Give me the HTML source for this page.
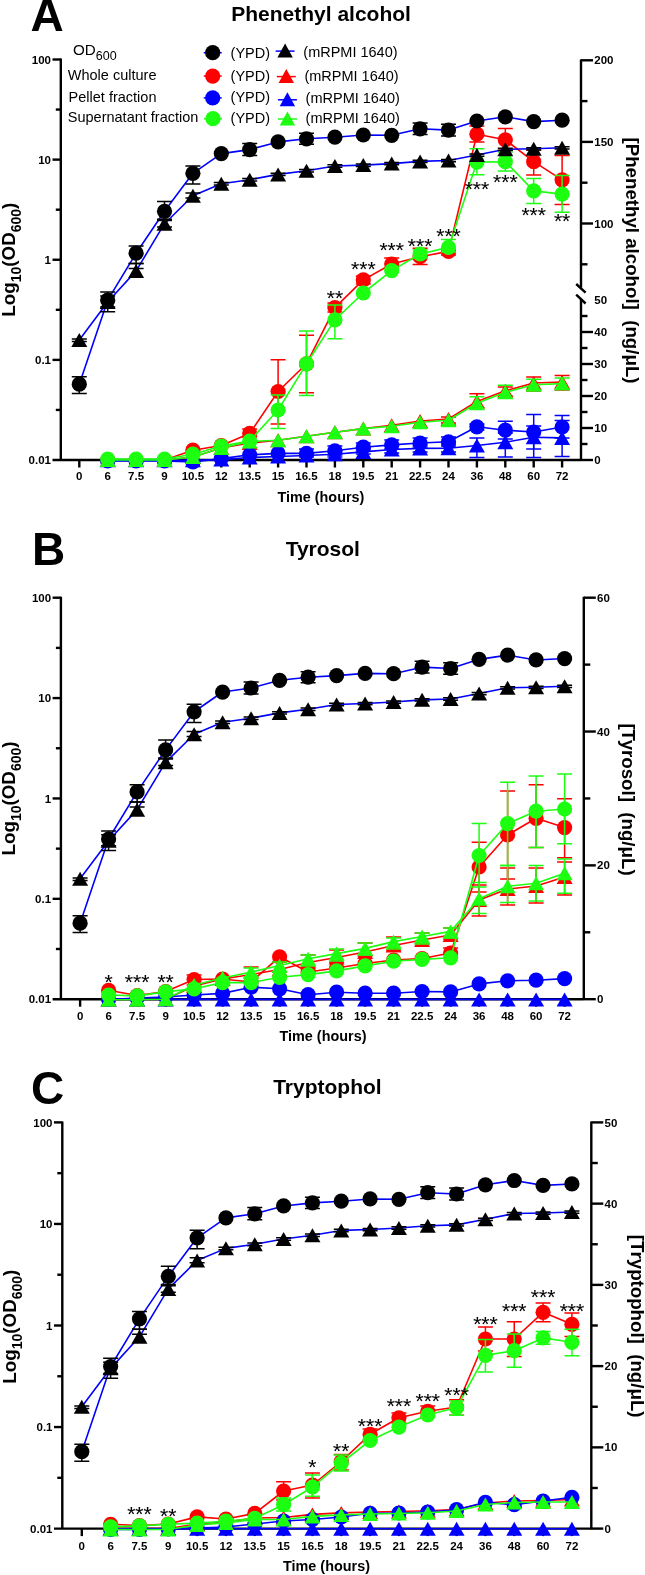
<!DOCTYPE html>
<html><head><meta charset="utf-8"><style>
html,body{margin:0;padding:0;background:#fff;width:645px;height:1575px;overflow:hidden}
svg{display:block;will-change:transform}
text{font-family:"Liberation Sans", sans-serif}
</style></head><body>
<svg width="645" height="1575" viewBox="0 0 645 1575" font-family='"Liberation Sans", sans-serif' fill="#000">
<rect width="645" height="1575" fill="#fff"/>
<path d="M60.8 58.6V460" stroke="#000" stroke-width="2.4"/>
<path d="M52.5 460H581" stroke="#000" stroke-width="2.4"/>
<text x="51" y="464.1" font-size="11.5" font-weight="bold" text-anchor="end" >0.01</text>
<path d="M52.5 359.88H60.8" stroke="#000" stroke-width="2.4"/>
<text x="51" y="363.98" font-size="11.5" font-weight="bold" text-anchor="end" >0.1</text>
<path d="M52.5 259.75H60.8" stroke="#000" stroke-width="2.4"/>
<text x="51" y="263.85" font-size="11.5" font-weight="bold" text-anchor="end" >1</text>
<path d="M52.5 159.62H60.8" stroke="#000" stroke-width="2.4"/>
<text x="51" y="163.72" font-size="11.5" font-weight="bold" text-anchor="end" >10</text>
<path d="M52.5 59.5H60.8" stroke="#000" stroke-width="2.4"/>
<text x="51" y="63.6" font-size="11.5" font-weight="bold" text-anchor="end" >100</text>
<path d="M55.8 409.94H60.8" stroke="#000" stroke-width="2.4"/>
<path d="M55.8 309.81H60.8" stroke="#000" stroke-width="2.4"/>
<path d="M55.8 209.69H60.8" stroke="#000" stroke-width="2.4"/>
<path d="M55.8 109.56H60.8" stroke="#000" stroke-width="2.4"/>
<path d="M79.3 460V467.5" stroke="#000" stroke-width="2.4"/>
<text x="79.3" y="480" font-size="11.5" font-weight="bold" text-anchor="middle" >0</text>
<path d="M107.7 460V467.5" stroke="#000" stroke-width="2.4"/>
<text x="107.7" y="480" font-size="11.5" font-weight="bold" text-anchor="middle" >6</text>
<path d="M136.1 460V467.5" stroke="#000" stroke-width="2.4"/>
<text x="136.1" y="480" font-size="11.5" font-weight="bold" text-anchor="middle" >7.5</text>
<path d="M164.5 460V467.5" stroke="#000" stroke-width="2.4"/>
<text x="164.5" y="480" font-size="11.5" font-weight="bold" text-anchor="middle" >9</text>
<path d="M192.9 460V467.5" stroke="#000" stroke-width="2.4"/>
<text x="192.9" y="480" font-size="11.5" font-weight="bold" text-anchor="middle" >10.5</text>
<path d="M221.3 460V467.5" stroke="#000" stroke-width="2.4"/>
<text x="221.3" y="480" font-size="11.5" font-weight="bold" text-anchor="middle" >12</text>
<path d="M249.7 460V467.5" stroke="#000" stroke-width="2.4"/>
<text x="249.7" y="480" font-size="11.5" font-weight="bold" text-anchor="middle" >13.5</text>
<path d="M278.1 460V467.5" stroke="#000" stroke-width="2.4"/>
<text x="278.1" y="480" font-size="11.5" font-weight="bold" text-anchor="middle" >15</text>
<path d="M306.5 460V467.5" stroke="#000" stroke-width="2.4"/>
<text x="306.5" y="480" font-size="11.5" font-weight="bold" text-anchor="middle" >16.5</text>
<path d="M334.9 460V467.5" stroke="#000" stroke-width="2.4"/>
<text x="334.9" y="480" font-size="11.5" font-weight="bold" text-anchor="middle" >18</text>
<path d="M363.3 460V467.5" stroke="#000" stroke-width="2.4"/>
<text x="363.3" y="480" font-size="11.5" font-weight="bold" text-anchor="middle" >19.5</text>
<path d="M391.7 460V467.5" stroke="#000" stroke-width="2.4"/>
<text x="391.7" y="480" font-size="11.5" font-weight="bold" text-anchor="middle" >21</text>
<path d="M420.1 460V467.5" stroke="#000" stroke-width="2.4"/>
<text x="420.1" y="480" font-size="11.5" font-weight="bold" text-anchor="middle" >22.5</text>
<path d="M448.5 460V467.5" stroke="#000" stroke-width="2.4"/>
<text x="448.5" y="480" font-size="11.5" font-weight="bold" text-anchor="middle" >24</text>
<path d="M476.9 460V467.5" stroke="#000" stroke-width="2.4"/>
<text x="476.9" y="480" font-size="11.5" font-weight="bold" text-anchor="middle" >36</text>
<path d="M505.3 460V467.5" stroke="#000" stroke-width="2.4"/>
<text x="505.3" y="480" font-size="11.5" font-weight="bold" text-anchor="middle" >48</text>
<path d="M533.7 460V467.5" stroke="#000" stroke-width="2.4"/>
<text x="533.7" y="480" font-size="11.5" font-weight="bold" text-anchor="middle" >60</text>
<path d="M562.1 460V467.5" stroke="#000" stroke-width="2.4"/>
<text x="562.1" y="480" font-size="11.5" font-weight="bold" text-anchor="middle" >72</text>
<text x="320.9" y="501.7" font-size="14.4" font-weight="bold" text-anchor="middle" >Time (hours)</text>
<text transform="translate(14.9 259.7) rotate(-90)" font-size="18.8" font-weight="bold" text-anchor="middle">Log<tspan font-size="14" dy="6.3">10</tspan><tspan dy="-6.3">(OD</tspan><tspan font-size="14" dy="6.3">600</tspan><tspan dy="-6.3">)</tspan></text>
<path d="M581 298.7V460.9" stroke="#000" stroke-width="2.4"/>
<path d="M581 460H593" stroke="#000" stroke-width="2.4"/>
<text x="594.3" y="464.1" font-size="11.5" font-weight="bold" text-anchor="start" >0</text>
<path d="M581 444H587.5" stroke="#000" stroke-width="2.4"/>
<path d="M581 428H593" stroke="#000" stroke-width="2.4"/>
<text x="594.3" y="432.1" font-size="11.5" font-weight="bold" text-anchor="start" >10</text>
<path d="M581 412H587.5" stroke="#000" stroke-width="2.4"/>
<path d="M581 396H593" stroke="#000" stroke-width="2.4"/>
<text x="594.3" y="400.1" font-size="11.5" font-weight="bold" text-anchor="start" >20</text>
<path d="M581 380H587.5" stroke="#000" stroke-width="2.4"/>
<path d="M581 364H593" stroke="#000" stroke-width="2.4"/>
<text x="594.3" y="368.1" font-size="11.5" font-weight="bold" text-anchor="start" >30</text>
<path d="M581 348H587.5" stroke="#000" stroke-width="2.4"/>
<path d="M581 332H593" stroke="#000" stroke-width="2.4"/>
<text x="594.3" y="336.1" font-size="11.5" font-weight="bold" text-anchor="start" >40</text>
<path d="M581 316H587.5" stroke="#000" stroke-width="2.4"/>
<text x="594.3" y="304.1" font-size="11.5" font-weight="bold" text-anchor="start" >50</text>
<path d="M581 59.4V287.6" stroke="#000" stroke-width="2.4"/>
<path d="M581 264.3H587.5" stroke="#000" stroke-width="2.4"/>
<path d="M581 223.5H593" stroke="#000" stroke-width="2.4"/>
<text x="594.3" y="227.6" font-size="11.5" font-weight="bold" text-anchor="start" >100</text>
<path d="M581 182.7H587.5" stroke="#000" stroke-width="2.4"/>
<path d="M581 141.9H593" stroke="#000" stroke-width="2.4"/>
<text x="594.3" y="146" font-size="11.5" font-weight="bold" text-anchor="start" >150</text>
<path d="M581 101.1H587.5" stroke="#000" stroke-width="2.4"/>
<path d="M581 60.3H593" stroke="#000" stroke-width="2.4"/>
<text x="594.3" y="64.4" font-size="11.5" font-weight="bold" text-anchor="start" >200</text>
<path d="M576.2 284L585.6 292.6M576.2 294.7L585.6 303.5" stroke="#000" stroke-width="2.4"/>
<text transform="translate(626.3 260.5) rotate(90)" font-size="18.7" font-weight="bold" text-anchor="middle" xml:space="preserve">[Phenethyl alcohol]  (ng/μL)</text>
<text x="321.1" y="20.9" font-size="21" font-weight="bold" text-anchor="middle" >Phenethyl alcohol</text>
<text x="30.5" y="31" font-size="46" font-weight="bold" text-anchor="start" >A</text>
<polyline points="107.7,460 136.1,460 164.5,460 192.9,450.2 221.3,445.5 249.7,433.4 278.1,391.5 306.5,363.8 334.9,307.6 363.3,279.9 391.7,264 420.1,256.7 448.5,251.4 476.9,134.2 505.3,139.8 533.7,161.7 562.1,179.8" fill="none" stroke="#ff0000" stroke-width="1.6" stroke-linejoin="round"/>
<path d="M278.1 359.8V424M270.6 359.8H285.6M270.6 424H285.6" stroke="#ff0000" stroke-width="1.5" fill="none"/>
<path d="M306.5 335.3V392.8M299 335.3H314M299 392.8H314" stroke="#ff0000" stroke-width="1.5" fill="none"/>
<path d="M334.9 303V312M327.4 303H342.4M327.4 312H342.4" stroke="#ff0000" stroke-width="1.5" fill="none"/>
<path d="M363.3 276V284M355.8 276H370.8M355.8 284H370.8" stroke="#ff0000" stroke-width="1.5" fill="none"/>
<path d="M391.7 258V268M384.2 258H399.2M384.2 268H399.2" stroke="#ff0000" stroke-width="1.5" fill="none"/>
<path d="M420.1 248.2V264.6M412.6 248.2H427.6M412.6 264.6H427.6" stroke="#ff0000" stroke-width="1.5" fill="none"/>
<path d="M448.5 248V255M441 248H456M441 255H456" stroke="#ff0000" stroke-width="1.5" fill="none"/>
<path d="M476.9 126V142M469.4 126H484.4M469.4 142H484.4" stroke="#ff0000" stroke-width="1.5" fill="none"/>
<path d="M505.3 128.6V150.2M497.8 128.6H512.8M497.8 150.2H512.8" stroke="#ff0000" stroke-width="1.5" fill="none"/>
<path d="M533.7 150V175.1M526.2 150H541.2M526.2 175.1H541.2" stroke="#ff0000" stroke-width="1.5" fill="none"/>
<path d="M562.1 155.6V204.5M554.6 155.6H569.6M554.6 204.5H569.6" stroke="#ff0000" stroke-width="1.5" fill="none"/>
<path d="M249.7 429V437M242.2 429H257.2M242.2 437H257.2" stroke="#ff0000" stroke-width="1.5" fill="none"/>
<circle cx="107.7" cy="460" r="7.6" fill="#ff0000"/>
<circle cx="136.1" cy="460" r="7.6" fill="#ff0000"/>
<circle cx="164.5" cy="460" r="7.6" fill="#ff0000"/>
<circle cx="192.9" cy="450.2" r="7.6" fill="#ff0000"/>
<circle cx="221.3" cy="445.5" r="7.6" fill="#ff0000"/>
<circle cx="249.7" cy="433.4" r="7.6" fill="#ff0000"/>
<circle cx="278.1" cy="391.5" r="7.6" fill="#ff0000"/>
<circle cx="306.5" cy="363.8" r="7.6" fill="#ff0000"/>
<circle cx="334.9" cy="307.6" r="7.6" fill="#ff0000"/>
<circle cx="363.3" cy="279.9" r="7.6" fill="#ff0000"/>
<circle cx="391.7" cy="264" r="7.6" fill="#ff0000"/>
<circle cx="420.1" cy="256.7" r="7.6" fill="#ff0000"/>
<circle cx="448.5" cy="251.4" r="7.6" fill="#ff0000"/>
<circle cx="476.9" cy="134.2" r="7.6" fill="#ff0000"/>
<circle cx="505.3" cy="139.8" r="7.6" fill="#ff0000"/>
<circle cx="533.7" cy="161.7" r="7.6" fill="#ff0000"/>
<circle cx="562.1" cy="179.8" r="7.6" fill="#ff0000"/>
<polyline points="107.7,460 136.1,460 164.5,460 192.9,457 221.3,448 249.7,443 278.1,440.2 306.5,436.3 334.9,432.2 363.3,428.6 391.7,425.3 420.1,421 448.5,419 476.9,401.5 505.3,390.8 533.7,383 562.1,382" fill="none" stroke="#ff0000" stroke-width="1.6" stroke-linejoin="round"/>
<path d="M448.5 417V423M441 417H456M441 423H456" stroke="#ff0000" stroke-width="1.5" fill="none"/>
<path d="M476.9 393.8V408M469.4 393.8H484.4M469.4 408H484.4" stroke="#ff0000" stroke-width="1.5" fill="none"/>
<path d="M505.3 387V396M497.8 387H512.8M497.8 396H512.8" stroke="#ff0000" stroke-width="1.5" fill="none"/>
<path d="M533.7 377.1V391M526.2 377.1H541.2M526.2 391H541.2" stroke="#ff0000" stroke-width="1.5" fill="none"/>
<path d="M562.1 375.6V390M554.6 375.6H569.6M554.6 390H569.6" stroke="#ff0000" stroke-width="1.5" fill="none"/>
<path d="M107.7 453L115.7 467L99.7 467Z" fill="#ff0000"/>
<path d="M136.1 453L144.1 467L128.1 467Z" fill="#ff0000"/>
<path d="M164.5 453L172.5 467L156.5 467Z" fill="#ff0000"/>
<path d="M192.9 450L200.9 464L184.9 464Z" fill="#ff0000"/>
<path d="M221.3 441L229.3 455L213.3 455Z" fill="#ff0000"/>
<path d="M249.7 436L257.7 450L241.7 450Z" fill="#ff0000"/>
<path d="M278.1 433.2L286.1 447.2L270.1 447.2Z" fill="#ff0000"/>
<path d="M306.5 429.3L314.5 443.3L298.5 443.3Z" fill="#ff0000"/>
<path d="M334.9 425.2L342.9 439.2L326.9 439.2Z" fill="#ff0000"/>
<path d="M363.3 421.6L371.3 435.6L355.3 435.6Z" fill="#ff0000"/>
<path d="M391.7 418.3L399.7 432.3L383.7 432.3Z" fill="#ff0000"/>
<path d="M420.1 414L428.1 428L412.1 428Z" fill="#ff0000"/>
<path d="M448.5 412L456.5 426L440.5 426Z" fill="#ff0000"/>
<path d="M476.9 394.5L484.9 408.5L468.9 408.5Z" fill="#ff0000"/>
<path d="M505.3 383.8L513.3 397.8L497.3 397.8Z" fill="#ff0000"/>
<path d="M533.7 376L541.7 390L525.7 390Z" fill="#ff0000"/>
<path d="M562.1 375L570.1 389L554.1 389Z" fill="#ff0000"/>
<polyline points="107.7,461 136.1,461 164.5,461 192.9,462 221.3,458.6 249.7,454.8 278.1,453.4 306.5,453.4 334.9,450.8 363.3,447.2 391.7,444.9 420.1,443 448.5,441.8 476.9,426.8 505.3,430.2 533.7,432 562.1,427" fill="none" stroke="#0000ff" stroke-width="1.6" stroke-linejoin="round"/>
<path d="M306.5 449V457M299 449H314M299 457H314" stroke="#0000ff" stroke-width="1.5" fill="none"/>
<path d="M334.9 446V455M327.4 446H342.4M327.4 455H342.4" stroke="#0000ff" stroke-width="1.5" fill="none"/>
<path d="M363.3 443V451M355.8 443H370.8M355.8 451H370.8" stroke="#0000ff" stroke-width="1.5" fill="none"/>
<path d="M391.7 440V449M384.2 440H399.2M384.2 449H399.2" stroke="#0000ff" stroke-width="1.5" fill="none"/>
<path d="M420.1 438V447M412.6 438H427.6M412.6 447H427.6" stroke="#0000ff" stroke-width="1.5" fill="none"/>
<path d="M448.5 437V446M441 437H456M441 446H456" stroke="#0000ff" stroke-width="1.5" fill="none"/>
<path d="M476.9 424V430M469.4 424H484.4M469.4 430H484.4" stroke="#0000ff" stroke-width="1.5" fill="none"/>
<path d="M505.3 421.2V439M497.8 421.2H512.8M497.8 439H512.8" stroke="#0000ff" stroke-width="1.5" fill="none"/>
<path d="M533.7 414.5V449M526.2 414.5H541.2M526.2 449H541.2" stroke="#0000ff" stroke-width="1.5" fill="none"/>
<path d="M562.1 415.6V438M554.6 415.6H569.6M554.6 438H569.6" stroke="#0000ff" stroke-width="1.5" fill="none"/>
<circle cx="107.7" cy="461" r="7.6" fill="#0000ff"/>
<circle cx="136.1" cy="461" r="7.6" fill="#0000ff"/>
<circle cx="164.5" cy="461" r="7.6" fill="#0000ff"/>
<circle cx="192.9" cy="462" r="7.6" fill="#0000ff"/>
<circle cx="221.3" cy="458.6" r="7.6" fill="#0000ff"/>
<circle cx="249.7" cy="454.8" r="7.6" fill="#0000ff"/>
<circle cx="278.1" cy="453.4" r="7.6" fill="#0000ff"/>
<circle cx="306.5" cy="453.4" r="7.6" fill="#0000ff"/>
<circle cx="334.9" cy="450.8" r="7.6" fill="#0000ff"/>
<circle cx="363.3" cy="447.2" r="7.6" fill="#0000ff"/>
<circle cx="391.7" cy="444.9" r="7.6" fill="#0000ff"/>
<circle cx="420.1" cy="443" r="7.6" fill="#0000ff"/>
<circle cx="448.5" cy="441.8" r="7.6" fill="#0000ff"/>
<circle cx="476.9" cy="426.8" r="7.6" fill="#0000ff"/>
<circle cx="505.3" cy="430.2" r="7.6" fill="#0000ff"/>
<circle cx="533.7" cy="432" r="7.6" fill="#0000ff"/>
<circle cx="562.1" cy="427" r="7.6" fill="#0000ff"/>
<polyline points="107.7,460.2 136.1,460.2 164.5,460.2 192.9,460.2 221.3,459.6 249.7,457.5 278.1,456.5 306.5,455.5 334.9,454.2 363.3,451.9 391.7,449.5 420.1,448.4 448.5,448.3 476.9,445.5 505.3,442.2 533.7,437.3 562.1,437.9" fill="none" stroke="#0000ff" stroke-width="1.6" stroke-linejoin="round"/>
<path d="M334.9 452V457M327.4 452H342.4M327.4 457H342.4" stroke="#0000ff" stroke-width="1.5" fill="none"/>
<path d="M363.3 449V454M355.8 449H370.8M355.8 454H370.8" stroke="#0000ff" stroke-width="1.5" fill="none"/>
<path d="M391.7 446V453M384.2 446H399.2M384.2 453H399.2" stroke="#0000ff" stroke-width="1.5" fill="none"/>
<path d="M420.1 445V452M412.6 445H427.6M412.6 452H427.6" stroke="#0000ff" stroke-width="1.5" fill="none"/>
<path d="M448.5 444V452M441 444H456M441 452H456" stroke="#0000ff" stroke-width="1.5" fill="none"/>
<path d="M476.9 438V457.4M469.4 438H484.4M469.4 457.4H484.4" stroke="#0000ff" stroke-width="1.5" fill="none"/>
<path d="M505.3 433V457M497.8 433H512.8M497.8 457H512.8" stroke="#0000ff" stroke-width="1.5" fill="none"/>
<path d="M533.7 426V457.4M526.2 426H541.2M526.2 457.4H541.2" stroke="#0000ff" stroke-width="1.5" fill="none"/>
<path d="M562.1 420.5V456.4M554.6 420.5H569.6M554.6 456.4H569.6" stroke="#0000ff" stroke-width="1.5" fill="none"/>
<path d="M107.7 453.2L115.7 467.2L99.7 467.2Z" fill="#0000ff"/>
<path d="M136.1 453.2L144.1 467.2L128.1 467.2Z" fill="#0000ff"/>
<path d="M164.5 453.2L172.5 467.2L156.5 467.2Z" fill="#0000ff"/>
<path d="M192.9 453.2L200.9 467.2L184.9 467.2Z" fill="#0000ff"/>
<path d="M221.3 452.6L229.3 466.6L213.3 466.6Z" fill="#0000ff"/>
<path d="M249.7 450.5L257.7 464.5L241.7 464.5Z" fill="#0000ff"/>
<path d="M278.1 449.5L286.1 463.5L270.1 463.5Z" fill="#0000ff"/>
<path d="M306.5 448.5L314.5 462.5L298.5 462.5Z" fill="#0000ff"/>
<path d="M334.9 447.2L342.9 461.2L326.9 461.2Z" fill="#0000ff"/>
<path d="M363.3 444.9L371.3 458.9L355.3 458.9Z" fill="#0000ff"/>
<path d="M391.7 442.5L399.7 456.5L383.7 456.5Z" fill="#0000ff"/>
<path d="M420.1 441.4L428.1 455.4L412.1 455.4Z" fill="#0000ff"/>
<path d="M448.5 441.3L456.5 455.3L440.5 455.3Z" fill="#0000ff"/>
<path d="M476.9 438.5L484.9 452.5L468.9 452.5Z" fill="#0000ff"/>
<path d="M505.3 435.2L513.3 449.2L497.3 449.2Z" fill="#0000ff"/>
<path d="M533.7 430.3L541.7 444.3L525.7 444.3Z" fill="#0000ff"/>
<path d="M562.1 430.9L570.1 444.9L554.1 444.9Z" fill="#0000ff"/>
<polyline points="107.7,459 136.1,459 164.5,459 192.9,454.2 221.3,446 249.7,441 278.1,410 306.5,363.8 334.9,319.9 363.3,293 391.7,270.6 420.1,254 448.5,247.4 476.9,162.1 505.3,161.7 533.7,190.9 562.1,194.1" fill="none" stroke="#1cff10" stroke-width="1.6" stroke-linejoin="round"/>
<path d="M278.1 395V428.5M270.6 395H285.6M270.6 428.5H285.6" stroke="#1cff10" stroke-width="1.5" fill="none"/>
<path d="M306.5 330.9V395.4M299 330.9H314M299 395.4H314" stroke="#1cff10" stroke-width="1.5" fill="none"/>
<path d="M334.9 305V338.8M327.4 305H342.4M327.4 338.8H342.4" stroke="#1cff10" stroke-width="1.5" fill="none"/>
<path d="M420.1 250V258M412.6 250H427.6M412.6 258H427.6" stroke="#1cff10" stroke-width="1.5" fill="none"/>
<path d="M448.5 239.5V252M441 239.5H456M441 252H456" stroke="#1cff10" stroke-width="1.5" fill="none"/>
<path d="M476.9 148.7V174.7M469.4 148.7H484.4M469.4 174.7H484.4" stroke="#1cff10" stroke-width="1.5" fill="none"/>
<path d="M505.3 152V171M497.8 152H512.8M497.8 171H512.8" stroke="#1cff10" stroke-width="1.5" fill="none"/>
<path d="M533.7 178.5V203.6M526.2 178.5H541.2M526.2 203.6H541.2" stroke="#1cff10" stroke-width="1.5" fill="none"/>
<path d="M562.1 175.5V212.3M554.6 175.5H569.6M554.6 212.3H569.6" stroke="#1cff10" stroke-width="1.5" fill="none"/>
<circle cx="107.7" cy="459" r="7.6" fill="#1cff10"/>
<circle cx="136.1" cy="459" r="7.6" fill="#1cff10"/>
<circle cx="164.5" cy="459" r="7.6" fill="#1cff10"/>
<circle cx="192.9" cy="454.2" r="7.6" fill="#1cff10"/>
<circle cx="221.3" cy="446" r="7.6" fill="#1cff10"/>
<circle cx="249.7" cy="441" r="7.6" fill="#1cff10"/>
<circle cx="278.1" cy="410" r="7.6" fill="#1cff10"/>
<circle cx="306.5" cy="363.8" r="7.6" fill="#1cff10"/>
<circle cx="334.9" cy="319.9" r="7.6" fill="#1cff10"/>
<circle cx="363.3" cy="293" r="7.6" fill="#1cff10"/>
<circle cx="391.7" cy="270.6" r="7.6" fill="#1cff10"/>
<circle cx="420.1" cy="254" r="7.6" fill="#1cff10"/>
<circle cx="448.5" cy="247.4" r="7.6" fill="#1cff10"/>
<circle cx="476.9" cy="162.1" r="7.6" fill="#1cff10"/>
<circle cx="505.3" cy="161.7" r="7.6" fill="#1cff10"/>
<circle cx="533.7" cy="190.9" r="7.6" fill="#1cff10"/>
<circle cx="562.1" cy="194.1" r="7.6" fill="#1cff10"/>
<polyline points="107.7,460 136.1,460 164.5,460 192.9,457 221.3,448 249.7,441.5 278.1,440.2 306.5,436.3 334.9,432.2 363.3,428.6 391.7,426.3 420.1,422.3 448.5,420.3 476.9,403.2 505.3,392.3 533.7,384.7 562.1,383.6" fill="none" stroke="#1cff10" stroke-width="1.6" stroke-linejoin="round"/>
<path d="M476.9 396.7V409M469.4 396.7H484.4M469.4 409H484.4" stroke="#1cff10" stroke-width="1.5" fill="none"/>
<path d="M505.3 385.2V398M497.8 385.2H512.8M497.8 398H512.8" stroke="#1cff10" stroke-width="1.5" fill="none"/>
<path d="M533.7 379.3V390M526.2 379.3H541.2M526.2 390H541.2" stroke="#1cff10" stroke-width="1.5" fill="none"/>
<path d="M562.1 378V389M554.6 378H569.6M554.6 389H569.6" stroke="#1cff10" stroke-width="1.5" fill="none"/>
<path d="M107.7 453L115.7 467L99.7 467Z" fill="#1cff10"/>
<path d="M136.1 453L144.1 467L128.1 467Z" fill="#1cff10"/>
<path d="M164.5 453L172.5 467L156.5 467Z" fill="#1cff10"/>
<path d="M192.9 450L200.9 464L184.9 464Z" fill="#1cff10"/>
<path d="M221.3 441L229.3 455L213.3 455Z" fill="#1cff10"/>
<path d="M249.7 434.5L257.7 448.5L241.7 448.5Z" fill="#1cff10"/>
<path d="M278.1 433.2L286.1 447.2L270.1 447.2Z" fill="#1cff10"/>
<path d="M306.5 429.3L314.5 443.3L298.5 443.3Z" fill="#1cff10"/>
<path d="M334.9 425.2L342.9 439.2L326.9 439.2Z" fill="#1cff10"/>
<path d="M363.3 421.6L371.3 435.6L355.3 435.6Z" fill="#1cff10"/>
<path d="M391.7 419.3L399.7 433.3L383.7 433.3Z" fill="#1cff10"/>
<path d="M420.1 415.3L428.1 429.3L412.1 429.3Z" fill="#1cff10"/>
<path d="M448.5 413.3L456.5 427.3L440.5 427.3Z" fill="#1cff10"/>
<path d="M476.9 396.2L484.9 410.2L468.9 410.2Z" fill="#1cff10"/>
<path d="M505.3 385.3L513.3 399.3L497.3 399.3Z" fill="#1cff10"/>
<path d="M533.7 377.7L541.7 391.7L525.7 391.7Z" fill="#1cff10"/>
<path d="M562.1 376.6L570.1 390.6L554.1 390.6Z" fill="#1cff10"/>
<polyline points="79.3,339.9 107.7,302 136.1,270.9 164.5,223.7 192.9,195.7 221.3,183.7 249.7,179.7 278.1,174.4 306.5,170.7 334.9,166 363.3,165.1 391.7,163.6 420.1,161.4 448.5,160.5 476.9,155 505.3,149.3 533.7,148.8 562.1,147.8" fill="none" stroke="#0000ff" stroke-width="1.6" stroke-linejoin="round"/>
<polyline points="79.3,384.2 107.7,300.2 136.1,253.2 164.5,211.3 192.9,173.3 221.3,153.6 249.7,149.6 278.1,141.9 306.5,138.8 334.9,137.2 363.3,135 391.7,135.3 420.1,128.8 448.5,130.1 476.9,121 505.3,116.8 533.7,121.6 562.1,120.2" fill="none" stroke="#0000ff" stroke-width="1.6" stroke-linejoin="round"/>
<path d="M79.3 339V341.5M71.8 339H86.8M71.8 341.5H86.8" stroke="#000000" stroke-width="1.5" fill="none"/>
<path d="M136.1 263.4V268.4M128.6 263.4H143.6M128.6 268.4H143.6" stroke="#000000" stroke-width="1.5" fill="none"/>
<path d="M164.5 220.5V227M157 220.5H172M157 227H172" stroke="#000000" stroke-width="1.5" fill="none"/>
<path d="M107.7 296V307M100.2 296H115.2M100.2 307H115.2" stroke="#000000" stroke-width="1.5" fill="none"/>
<path d="M192.9 193V198M185.4 193H200.4M185.4 198H200.4" stroke="#000000" stroke-width="1.5" fill="none"/>
<path d="M221.3 182.5V185M213.8 182.5H228.8M213.8 185H228.8" stroke="#000000" stroke-width="1.5" fill="none"/>
<path d="M249.7 178.5V181M242.2 178.5H257.2M242.2 181H257.2" stroke="#000000" stroke-width="1.5" fill="none"/>
<path d="M278.1 173.2V175.6M270.6 173.2H285.6M270.6 175.6H285.6" stroke="#000000" stroke-width="1.5" fill="none"/>
<path d="M306.5 169.5V172M299 169.5H314M299 172H314" stroke="#000000" stroke-width="1.5" fill="none"/>
<path d="M334.9 164.8V167.2M327.4 164.8H342.4M327.4 167.2H342.4" stroke="#000000" stroke-width="1.5" fill="none"/>
<path d="M363.3 164V166.4M355.8 164H370.8M355.8 166.4H370.8" stroke="#000000" stroke-width="1.5" fill="none"/>
<path d="M391.7 162.5V164.8M384.2 162.5H399.2M384.2 164.8H399.2" stroke="#000000" stroke-width="1.5" fill="none"/>
<path d="M420.1 160.3V162.6M412.6 160.3H427.6M412.6 162.6H427.6" stroke="#000000" stroke-width="1.5" fill="none"/>
<path d="M448.5 159.4V161.7M441 159.4H456M441 161.7H456" stroke="#000000" stroke-width="1.5" fill="none"/>
<path d="M476.9 154V156.3M469.4 154H484.4M469.4 156.3H484.4" stroke="#000000" stroke-width="1.5" fill="none"/>
<path d="M505.3 148.3V150.6M497.8 148.3H512.8M497.8 150.6H512.8" stroke="#000000" stroke-width="1.5" fill="none"/>
<path d="M533.7 147.8V150M526.2 147.8H541.2M526.2 150H541.2" stroke="#000000" stroke-width="1.5" fill="none"/>
<path d="M562.1 146.8V149M554.6 146.8H569.6M554.6 149H569.6" stroke="#000000" stroke-width="1.5" fill="none"/>
<path d="M79.3 376.8V393.5M71.8 376.8H86.8M71.8 393.5H86.8" stroke="#000000" stroke-width="1.5" fill="none"/>
<path d="M107.7 292.1V311.7M100.2 292.1H115.2M100.2 311.7H115.2" stroke="#000000" stroke-width="1.5" fill="none"/>
<path d="M136.1 246V263.4M128.6 246H143.6M128.6 263.4H143.6" stroke="#000000" stroke-width="1.5" fill="none"/>
<path d="M164.5 201.4V219.3M157 201.4H172M157 219.3H172" stroke="#000000" stroke-width="1.5" fill="none"/>
<path d="M192.9 165.9V184M185.4 165.9H200.4M185.4 184H200.4" stroke="#000000" stroke-width="1.5" fill="none"/>
<path d="M249.7 143.5V155.5M242.2 143.5H257.2M242.2 155.5H257.2" stroke="#000000" stroke-width="1.5" fill="none"/>
<path d="M306.5 133.3V144.3M299 133.3H314M299 144.3H314" stroke="#000000" stroke-width="1.5" fill="none"/>
<path d="M420.1 123V134.6M412.6 123H427.6M412.6 134.6H427.6" stroke="#000000" stroke-width="1.5" fill="none"/>
<path d="M448.5 124.3V135.9M441 124.3H456M441 135.9H456" stroke="#000000" stroke-width="1.5" fill="none"/>
<path d="M79.3 332.9L87.3 346.9L71.3 346.9Z" fill="#000000"/>
<path d="M107.7 295L115.7 309L99.7 309Z" fill="#000000"/>
<path d="M136.1 263.9L144.1 277.9L128.1 277.9Z" fill="#000000"/>
<path d="M164.5 216.7L172.5 230.7L156.5 230.7Z" fill="#000000"/>
<path d="M192.9 188.7L200.9 202.7L184.9 202.7Z" fill="#000000"/>
<path d="M221.3 176.7L229.3 190.7L213.3 190.7Z" fill="#000000"/>
<path d="M249.7 172.7L257.7 186.7L241.7 186.7Z" fill="#000000"/>
<path d="M278.1 167.4L286.1 181.4L270.1 181.4Z" fill="#000000"/>
<path d="M306.5 163.7L314.5 177.7L298.5 177.7Z" fill="#000000"/>
<path d="M334.9 159L342.9 173L326.9 173Z" fill="#000000"/>
<path d="M363.3 158.1L371.3 172.1L355.3 172.1Z" fill="#000000"/>
<path d="M391.7 156.6L399.7 170.6L383.7 170.6Z" fill="#000000"/>
<path d="M420.1 154.4L428.1 168.4L412.1 168.4Z" fill="#000000"/>
<path d="M448.5 153.5L456.5 167.5L440.5 167.5Z" fill="#000000"/>
<path d="M476.9 148L484.9 162L468.9 162Z" fill="#000000"/>
<path d="M505.3 142.3L513.3 156.3L497.3 156.3Z" fill="#000000"/>
<path d="M533.7 141.8L541.7 155.8L525.7 155.8Z" fill="#000000"/>
<path d="M562.1 140.8L570.1 154.8L554.1 154.8Z" fill="#000000"/>
<circle cx="79.3" cy="384.2" r="7.6" fill="#000000"/>
<circle cx="107.7" cy="300.2" r="7.6" fill="#000000"/>
<circle cx="136.1" cy="253.2" r="7.6" fill="#000000"/>
<circle cx="164.5" cy="211.3" r="7.6" fill="#000000"/>
<circle cx="192.9" cy="173.3" r="7.6" fill="#000000"/>
<circle cx="221.3" cy="153.6" r="7.6" fill="#000000"/>
<circle cx="249.7" cy="149.6" r="7.6" fill="#000000"/>
<circle cx="278.1" cy="141.9" r="7.6" fill="#000000"/>
<circle cx="306.5" cy="138.8" r="7.6" fill="#000000"/>
<circle cx="334.9" cy="137.2" r="7.6" fill="#000000"/>
<circle cx="363.3" cy="135" r="7.6" fill="#000000"/>
<circle cx="391.7" cy="135.3" r="7.6" fill="#000000"/>
<circle cx="420.1" cy="128.8" r="7.6" fill="#000000"/>
<circle cx="448.5" cy="130.1" r="7.6" fill="#000000"/>
<circle cx="476.9" cy="121" r="7.6" fill="#000000"/>
<circle cx="505.3" cy="116.8" r="7.6" fill="#000000"/>
<circle cx="533.7" cy="121.6" r="7.6" fill="#000000"/>
<circle cx="562.1" cy="120.2" r="7.6" fill="#000000"/>
<text x="334.9" y="305.2" font-size="21" text-anchor="middle" font-weight="normal" stroke="#000" stroke-width="0.1">**</text>
<text x="363.3" y="276.2" font-size="21" text-anchor="middle" font-weight="normal" stroke="#000" stroke-width="0.1">***</text>
<text x="391.7" y="257.2" font-size="21" text-anchor="middle" font-weight="normal" stroke="#000" stroke-width="0.1">***</text>
<text x="420.1" y="252.5" font-size="21" text-anchor="middle" font-weight="normal" stroke="#000" stroke-width="0.1">***</text>
<text x="448.5" y="243.3" font-size="21" text-anchor="middle" font-weight="normal" stroke="#000" stroke-width="0.1">***</text>
<text x="476.9" y="196.3" font-size="21" text-anchor="middle" font-weight="normal" stroke="#000" stroke-width="0.1">***</text>
<text x="505.3" y="188.8" font-size="21" text-anchor="middle" font-weight="normal" stroke="#000" stroke-width="0.1">***</text>
<text x="533.7" y="221.5" font-size="21" text-anchor="middle" font-weight="normal" stroke="#000" stroke-width="0.1">***</text>
<text x="562.1" y="227.8" font-size="21" text-anchor="middle" font-weight="normal" stroke="#000" stroke-width="0.1">**</text>
<path d="M60.9 596.8V999.2" stroke="#000" stroke-width="2.4"/>
<path d="M52.6 999.2H583.8" stroke="#000" stroke-width="2.4"/>
<text x="51.1" y="1003.3" font-size="11.5" font-weight="bold" text-anchor="end" >0.01</text>
<path d="M52.6 898.83H60.9" stroke="#000" stroke-width="2.4"/>
<text x="51.1" y="902.93" font-size="11.5" font-weight="bold" text-anchor="end" >0.1</text>
<path d="M52.6 798.45H60.9" stroke="#000" stroke-width="2.4"/>
<text x="51.1" y="802.55" font-size="11.5" font-weight="bold" text-anchor="end" >1</text>
<path d="M52.6 698.08H60.9" stroke="#000" stroke-width="2.4"/>
<text x="51.1" y="702.18" font-size="11.5" font-weight="bold" text-anchor="end" >10</text>
<path d="M52.6 597.7H60.9" stroke="#000" stroke-width="2.4"/>
<text x="51.1" y="601.8" font-size="11.5" font-weight="bold" text-anchor="end" >100</text>
<path d="M55.9 949.01H60.9" stroke="#000" stroke-width="2.4"/>
<path d="M55.9 848.64H60.9" stroke="#000" stroke-width="2.4"/>
<path d="M55.9 748.26H60.9" stroke="#000" stroke-width="2.4"/>
<path d="M55.9 647.89H60.9" stroke="#000" stroke-width="2.4"/>
<path d="M80.1 999.2V1006.7" stroke="#000" stroke-width="2.4"/>
<text x="80.1" y="1020" font-size="11.5" font-weight="bold" text-anchor="middle" >0</text>
<path d="M108.6 999.2V1006.7" stroke="#000" stroke-width="2.4"/>
<text x="108.6" y="1020" font-size="11.5" font-weight="bold" text-anchor="middle" >6</text>
<path d="M137.1 999.2V1006.7" stroke="#000" stroke-width="2.4"/>
<text x="137.1" y="1020" font-size="11.5" font-weight="bold" text-anchor="middle" >7.5</text>
<path d="M165.6 999.2V1006.7" stroke="#000" stroke-width="2.4"/>
<text x="165.6" y="1020" font-size="11.5" font-weight="bold" text-anchor="middle" >9</text>
<path d="M194.1 999.2V1006.7" stroke="#000" stroke-width="2.4"/>
<text x="194.1" y="1020" font-size="11.5" font-weight="bold" text-anchor="middle" >10.5</text>
<path d="M222.6 999.2V1006.7" stroke="#000" stroke-width="2.4"/>
<text x="222.6" y="1020" font-size="11.5" font-weight="bold" text-anchor="middle" >12</text>
<path d="M251.1 999.2V1006.7" stroke="#000" stroke-width="2.4"/>
<text x="251.1" y="1020" font-size="11.5" font-weight="bold" text-anchor="middle" >13.5</text>
<path d="M279.6 999.2V1006.7" stroke="#000" stroke-width="2.4"/>
<text x="279.6" y="1020" font-size="11.5" font-weight="bold" text-anchor="middle" >15</text>
<path d="M308.1 999.2V1006.7" stroke="#000" stroke-width="2.4"/>
<text x="308.1" y="1020" font-size="11.5" font-weight="bold" text-anchor="middle" >16.5</text>
<path d="M336.6 999.2V1006.7" stroke="#000" stroke-width="2.4"/>
<text x="336.6" y="1020" font-size="11.5" font-weight="bold" text-anchor="middle" >18</text>
<path d="M365.1 999.2V1006.7" stroke="#000" stroke-width="2.4"/>
<text x="365.1" y="1020" font-size="11.5" font-weight="bold" text-anchor="middle" >19.5</text>
<path d="M393.6 999.2V1006.7" stroke="#000" stroke-width="2.4"/>
<text x="393.6" y="1020" font-size="11.5" font-weight="bold" text-anchor="middle" >21</text>
<path d="M422.1 999.2V1006.7" stroke="#000" stroke-width="2.4"/>
<text x="422.1" y="1020" font-size="11.5" font-weight="bold" text-anchor="middle" >22.5</text>
<path d="M450.6 999.2V1006.7" stroke="#000" stroke-width="2.4"/>
<text x="450.6" y="1020" font-size="11.5" font-weight="bold" text-anchor="middle" >24</text>
<path d="M479.1 999.2V1006.7" stroke="#000" stroke-width="2.4"/>
<text x="479.1" y="1020" font-size="11.5" font-weight="bold" text-anchor="middle" >36</text>
<path d="M507.6 999.2V1006.7" stroke="#000" stroke-width="2.4"/>
<text x="507.6" y="1020" font-size="11.5" font-weight="bold" text-anchor="middle" >48</text>
<path d="M536.1 999.2V1006.7" stroke="#000" stroke-width="2.4"/>
<text x="536.1" y="1020" font-size="11.5" font-weight="bold" text-anchor="middle" >60</text>
<path d="M564.6 999.2V1006.7" stroke="#000" stroke-width="2.4"/>
<text x="564.6" y="1020" font-size="11.5" font-weight="bold" text-anchor="middle" >72</text>
<text x="323" y="1041.2" font-size="14.4" font-weight="bold" text-anchor="middle" >Time (hours)</text>
<text transform="translate(15.1 798.5) rotate(-90)" font-size="18.8" font-weight="bold" text-anchor="middle">Log<tspan font-size="14" dy="6.3">10</tspan><tspan dy="-6.3">(OD</tspan><tspan font-size="14" dy="6.3">600</tspan><tspan dy="-6.3">)</tspan></text>
<path d="M583.8 596.8V1000.1" stroke="#000" stroke-width="2.4"/>
<path d="M583.8 999.2H595.8" stroke="#000" stroke-width="2.4"/>
<text x="597.1" y="1003.3" font-size="11.5" font-weight="bold" text-anchor="start" >0</text>
<path d="M583.8 932.28H590.3" stroke="#000" stroke-width="2.4"/>
<path d="M583.8 865.37H595.8" stroke="#000" stroke-width="2.4"/>
<text x="597.1" y="869.47" font-size="11.5" font-weight="bold" text-anchor="start" >20</text>
<path d="M583.8 798.45H590.3" stroke="#000" stroke-width="2.4"/>
<path d="M583.8 731.53H595.8" stroke="#000" stroke-width="2.4"/>
<text x="597.1" y="735.63" font-size="11.5" font-weight="bold" text-anchor="start" >40</text>
<path d="M583.8 664.62H590.3" stroke="#000" stroke-width="2.4"/>
<path d="M583.8 597.7H595.8" stroke="#000" stroke-width="2.4"/>
<text x="597.1" y="601.8" font-size="11.5" font-weight="bold" text-anchor="start" >60</text>
<text transform="translate(622 799.5) rotate(90)" font-size="18.7" font-weight="bold" text-anchor="middle" xml:space="preserve">[Tyrosol]  (ng/μL)</text>
<text x="322.8" y="555.9" font-size="21" font-weight="bold" text-anchor="middle" >Tyrosol</text>
<text x="32" y="565.2" font-size="46" font-weight="bold" text-anchor="start" >B</text>
<polyline points="108.6,990.3 137.1,995.5 165.6,991.5 194.1,979.5 222.6,979 251.1,982 279.6,956.8 308.1,972 336.6,968 365.1,963.5 393.6,960 422.1,958.5 450.6,953 479.1,867 507.6,835 536.1,818.3 564.6,827.6" fill="none" stroke="#ff0000" stroke-width="1.6" stroke-linejoin="round"/>
<path d="M479.1 842.2V892M471.6 842.2H486.6M471.6 892H486.6" stroke="#ff0000" stroke-width="1.5" fill="none"/>
<path d="M507.6 791V879M500.1 791H515.1M500.1 879H515.1" stroke="#ff0000" stroke-width="1.5" fill="none"/>
<path d="M536.1 784.8V847.5M528.6 784.8H543.6M528.6 847.5H543.6" stroke="#ff0000" stroke-width="1.5" fill="none"/>
<path d="M564.6 798.8V857.7M557.1 798.8H572.1M557.1 857.7H572.1" stroke="#ff0000" stroke-width="1.5" fill="none"/>
<path d="M194.1 975V985M186.6 975H201.6M186.6 985H201.6" stroke="#ff0000" stroke-width="1.5" fill="none"/>
<path d="M450.6 948V958M443.1 948H458.1M443.1 958H458.1" stroke="#ff0000" stroke-width="1.5" fill="none"/>
<circle cx="108.6" cy="990.3" r="7.6" fill="#ff0000"/>
<circle cx="137.1" cy="995.5" r="7.6" fill="#ff0000"/>
<circle cx="165.6" cy="991.5" r="7.6" fill="#ff0000"/>
<circle cx="194.1" cy="979.5" r="7.6" fill="#ff0000"/>
<circle cx="222.6" cy="979" r="7.6" fill="#ff0000"/>
<circle cx="251.1" cy="982" r="7.6" fill="#ff0000"/>
<circle cx="279.6" cy="956.8" r="7.6" fill="#ff0000"/>
<circle cx="308.1" cy="972" r="7.6" fill="#ff0000"/>
<circle cx="336.6" cy="968" r="7.6" fill="#ff0000"/>
<circle cx="365.1" cy="963.5" r="7.6" fill="#ff0000"/>
<circle cx="393.6" cy="960" r="7.6" fill="#ff0000"/>
<circle cx="422.1" cy="958.5" r="7.6" fill="#ff0000"/>
<circle cx="450.6" cy="953" r="7.6" fill="#ff0000"/>
<circle cx="479.1" cy="867" r="7.6" fill="#ff0000"/>
<circle cx="507.6" cy="835" r="7.6" fill="#ff0000"/>
<circle cx="536.1" cy="818.3" r="7.6" fill="#ff0000"/>
<circle cx="564.6" cy="827.6" r="7.6" fill="#ff0000"/>
<polyline points="108.6,999.8 137.1,999.8 165.6,999.2 194.1,986 222.6,979 251.1,974.5 279.6,969.5 308.1,962.5 336.6,957.5 365.1,952 393.6,945.5 422.1,940 450.6,935 479.1,900 507.6,889 536.1,886 564.6,877" fill="none" stroke="#ff0000" stroke-width="1.6" stroke-linejoin="round"/>
<path d="M479.1 885V916M471.6 885H486.6M471.6 916H486.6" stroke="#ff0000" stroke-width="1.5" fill="none"/>
<path d="M507.6 868V905M500.1 868H515.1M500.1 905H515.1" stroke="#ff0000" stroke-width="1.5" fill="none"/>
<path d="M536.1 868V903M528.6 868H543.6M528.6 903H543.6" stroke="#ff0000" stroke-width="1.5" fill="none"/>
<path d="M564.6 862V895M557.1 862H572.1M557.1 895H572.1" stroke="#ff0000" stroke-width="1.5" fill="none"/>
<path d="M251.1 967V978M243.6 967H258.6M243.6 978H258.6" stroke="#ff0000" stroke-width="1.5" fill="none"/>
<path d="M279.6 962V972M272.1 962H287.1M272.1 972H287.1" stroke="#ff0000" stroke-width="1.5" fill="none"/>
<path d="M308.1 955V967M300.6 955H315.6M300.6 967H315.6" stroke="#ff0000" stroke-width="1.5" fill="none"/>
<path d="M336.6 950V962M329.1 950H344.1M329.1 962H344.1" stroke="#ff0000" stroke-width="1.5" fill="none"/>
<path d="M365.1 943V956M357.6 943H372.6M357.6 956H372.6" stroke="#ff0000" stroke-width="1.5" fill="none"/>
<path d="M393.6 937V950M386.1 937H401.1M386.1 950H401.1" stroke="#ff0000" stroke-width="1.5" fill="none"/>
<path d="M422.1 933V944M414.6 933H429.6M414.6 944H429.6" stroke="#ff0000" stroke-width="1.5" fill="none"/>
<path d="M450.6 928V939M443.1 928H458.1M443.1 939H458.1" stroke="#ff0000" stroke-width="1.5" fill="none"/>
<path d="M108.6 992.8L116.6 1006.8L100.6 1006.8Z" fill="#ff0000"/>
<path d="M137.1 992.8L145.1 1006.8L129.1 1006.8Z" fill="#ff0000"/>
<path d="M165.6 992.2L173.6 1006.2L157.6 1006.2Z" fill="#ff0000"/>
<path d="M194.1 979L202.1 993L186.1 993Z" fill="#ff0000"/>
<path d="M222.6 972L230.6 986L214.6 986Z" fill="#ff0000"/>
<path d="M251.1 967.5L259.1 981.5L243.1 981.5Z" fill="#ff0000"/>
<path d="M279.6 962.5L287.6 976.5L271.6 976.5Z" fill="#ff0000"/>
<path d="M308.1 955.5L316.1 969.5L300.1 969.5Z" fill="#ff0000"/>
<path d="M336.6 950.5L344.6 964.5L328.6 964.5Z" fill="#ff0000"/>
<path d="M365.1 945L373.1 959L357.1 959Z" fill="#ff0000"/>
<path d="M393.6 938.5L401.6 952.5L385.6 952.5Z" fill="#ff0000"/>
<path d="M422.1 933L430.1 947L414.1 947Z" fill="#ff0000"/>
<path d="M450.6 928L458.6 942L442.6 942Z" fill="#ff0000"/>
<path d="M479.1 893L487.1 907L471.1 907Z" fill="#ff0000"/>
<path d="M507.6 882L515.6 896L499.6 896Z" fill="#ff0000"/>
<path d="M536.1 879L544.1 893L528.1 893Z" fill="#ff0000"/>
<path d="M564.6 870L572.6 884L556.6 884Z" fill="#ff0000"/>
<polyline points="108.6,999.5 137.1,998 165.6,997 194.1,995 222.6,993.4 251.1,987.2 279.6,988.8 308.1,994.7 336.6,992.2 365.1,993.2 393.6,993.2 422.1,991.5 450.6,991.9 479.1,983.9 507.6,980.8 536.1,980.2 564.6,978.6" fill="none" stroke="#0000ff" stroke-width="1.6" stroke-linejoin="round"/>
<circle cx="108.6" cy="999.5" r="7.6" fill="#0000ff"/>
<circle cx="137.1" cy="998" r="7.6" fill="#0000ff"/>
<circle cx="165.6" cy="997" r="7.6" fill="#0000ff"/>
<circle cx="194.1" cy="995" r="7.6" fill="#0000ff"/>
<circle cx="222.6" cy="993.4" r="7.6" fill="#0000ff"/>
<circle cx="251.1" cy="987.2" r="7.6" fill="#0000ff"/>
<circle cx="279.6" cy="988.8" r="7.6" fill="#0000ff"/>
<circle cx="308.1" cy="994.7" r="7.6" fill="#0000ff"/>
<circle cx="336.6" cy="992.2" r="7.6" fill="#0000ff"/>
<circle cx="365.1" cy="993.2" r="7.6" fill="#0000ff"/>
<circle cx="393.6" cy="993.2" r="7.6" fill="#0000ff"/>
<circle cx="422.1" cy="991.5" r="7.6" fill="#0000ff"/>
<circle cx="450.6" cy="991.9" r="7.6" fill="#0000ff"/>
<circle cx="479.1" cy="983.9" r="7.6" fill="#0000ff"/>
<circle cx="507.6" cy="980.8" r="7.6" fill="#0000ff"/>
<circle cx="536.1" cy="980.2" r="7.6" fill="#0000ff"/>
<circle cx="564.6" cy="978.6" r="7.6" fill="#0000ff"/>
<polyline points="108.6,999.4 137.1,999.4 165.6,999.4 194.1,999.4 222.6,999.4 251.1,999.4 279.6,999.4 308.1,999.4 336.6,999.4 365.1,999.4 393.6,999.4 422.1,999.4 450.6,999.4 479.1,999.4 507.6,999.4 536.1,999.4 564.6,999.4" fill="none" stroke="#0000ff" stroke-width="1.6" stroke-linejoin="round"/>
<path d="M108.6 992.4L116.6 1006.4L100.6 1006.4Z" fill="#0000ff"/>
<path d="M137.1 992.4L145.1 1006.4L129.1 1006.4Z" fill="#0000ff"/>
<path d="M165.6 992.4L173.6 1006.4L157.6 1006.4Z" fill="#0000ff"/>
<path d="M194.1 992.4L202.1 1006.4L186.1 1006.4Z" fill="#0000ff"/>
<path d="M222.6 992.4L230.6 1006.4L214.6 1006.4Z" fill="#0000ff"/>
<path d="M251.1 992.4L259.1 1006.4L243.1 1006.4Z" fill="#0000ff"/>
<path d="M279.6 992.4L287.6 1006.4L271.6 1006.4Z" fill="#0000ff"/>
<path d="M308.1 992.4L316.1 1006.4L300.1 1006.4Z" fill="#0000ff"/>
<path d="M336.6 992.4L344.6 1006.4L328.6 1006.4Z" fill="#0000ff"/>
<path d="M365.1 992.4L373.1 1006.4L357.1 1006.4Z" fill="#0000ff"/>
<path d="M393.6 992.4L401.6 1006.4L385.6 1006.4Z" fill="#0000ff"/>
<path d="M422.1 992.4L430.1 1006.4L414.1 1006.4Z" fill="#0000ff"/>
<path d="M450.6 992.4L458.6 1006.4L442.6 1006.4Z" fill="#0000ff"/>
<path d="M479.1 992.4L487.1 1006.4L471.1 1006.4Z" fill="#0000ff"/>
<path d="M507.6 992.4L515.6 1006.4L499.6 1006.4Z" fill="#0000ff"/>
<path d="M536.1 992.4L544.1 1006.4L528.1 1006.4Z" fill="#0000ff"/>
<path d="M564.6 992.4L572.6 1006.4L556.6 1006.4Z" fill="#0000ff"/>
<polyline points="108.6,995 137.1,995.9 165.6,991.9 194.1,988.8 222.6,982.6 251.1,982.6 279.6,977.3 308.1,974.6 336.6,970.9 365.1,965.9 393.6,961.2 422.1,959.4 450.6,957.8 479.1,855.5 507.6,823.6 536.1,811.2 564.6,809" fill="none" stroke="#1cff10" stroke-width="1.6" stroke-linejoin="round"/>
<path d="M479.1 823.6V887M471.6 823.6H486.6M471.6 887H486.6" stroke="#1cff10" stroke-width="1.5" fill="none"/>
<path d="M507.6 782.3V865.4M500.1 782.3H515.1M500.1 865.4H515.1" stroke="#1cff10" stroke-width="1.5" fill="none"/>
<path d="M536.1 776.1V847.4M528.6 776.1H543.6M528.6 847.4H543.6" stroke="#1cff10" stroke-width="1.5" fill="none"/>
<path d="M564.6 774V843.7M557.1 774H572.1M557.1 843.7H572.1" stroke="#1cff10" stroke-width="1.5" fill="none"/>
<circle cx="108.6" cy="995" r="7.6" fill="#1cff10"/>
<circle cx="137.1" cy="995.9" r="7.6" fill="#1cff10"/>
<circle cx="165.6" cy="991.9" r="7.6" fill="#1cff10"/>
<circle cx="194.1" cy="988.8" r="7.6" fill="#1cff10"/>
<circle cx="222.6" cy="982.6" r="7.6" fill="#1cff10"/>
<circle cx="251.1" cy="982.6" r="7.6" fill="#1cff10"/>
<circle cx="279.6" cy="977.3" r="7.6" fill="#1cff10"/>
<circle cx="308.1" cy="974.6" r="7.6" fill="#1cff10"/>
<circle cx="336.6" cy="970.9" r="7.6" fill="#1cff10"/>
<circle cx="365.1" cy="965.9" r="7.6" fill="#1cff10"/>
<circle cx="393.6" cy="961.2" r="7.6" fill="#1cff10"/>
<circle cx="422.1" cy="959.4" r="7.6" fill="#1cff10"/>
<circle cx="450.6" cy="957.8" r="7.6" fill="#1cff10"/>
<circle cx="479.1" cy="855.5" r="7.6" fill="#1cff10"/>
<circle cx="507.6" cy="823.6" r="7.6" fill="#1cff10"/>
<circle cx="536.1" cy="811.2" r="7.6" fill="#1cff10"/>
<circle cx="564.6" cy="809" r="7.6" fill="#1cff10"/>
<polyline points="108.6,999.8 137.1,999.8 165.6,999.2 194.1,985 222.6,978 251.1,972 279.6,965.5 308.1,958.7 336.6,953.6 365.1,948.4 393.6,941.6 422.1,936.5 450.6,931.4 479.1,898.7 507.6,886.3 536.1,883.2 564.6,873.3" fill="none" stroke="#1cff10" stroke-width="1.6" stroke-linejoin="round"/>
<path d="M479.1 882.5V913.5M471.6 882.5H486.6M471.6 913.5H486.6" stroke="#1cff10" stroke-width="1.5" fill="none"/>
<path d="M507.6 865.4V902.6M500.1 865.4H515.1M500.1 902.6H515.1" stroke="#1cff10" stroke-width="1.5" fill="none"/>
<path d="M536.1 865.4V901M528.6 865.4H543.6M528.6 901H543.6" stroke="#1cff10" stroke-width="1.5" fill="none"/>
<path d="M564.6 859V893.3M557.1 859H572.1M557.1 893.3H572.1" stroke="#1cff10" stroke-width="1.5" fill="none"/>
<path d="M251.1 968V977M243.6 968H258.6M243.6 977H258.6" stroke="#1cff10" stroke-width="1.5" fill="none"/>
<path d="M279.6 962V972M272.1 962H287.1M272.1 972H287.1" stroke="#1cff10" stroke-width="1.5" fill="none"/>
<path d="M308.1 955V966M300.6 955H315.6M300.6 966H315.6" stroke="#1cff10" stroke-width="1.5" fill="none"/>
<path d="M336.6 949V961M329.1 949H344.1M329.1 961H344.1" stroke="#1cff10" stroke-width="1.5" fill="none"/>
<path d="M365.1 943V955M357.6 943H372.6M357.6 955H372.6" stroke="#1cff10" stroke-width="1.5" fill="none"/>
<path d="M393.6 938V949M386.1 938H401.1M386.1 949H401.1" stroke="#1cff10" stroke-width="1.5" fill="none"/>
<path d="M422.1 933V944M414.6 933H429.6M414.6 944H429.6" stroke="#1cff10" stroke-width="1.5" fill="none"/>
<path d="M450.6 928V938M443.1 928H458.1M443.1 938H458.1" stroke="#1cff10" stroke-width="1.5" fill="none"/>
<path d="M108.6 992.8L116.6 1006.8L100.6 1006.8Z" fill="#1cff10"/>
<path d="M137.1 992.8L145.1 1006.8L129.1 1006.8Z" fill="#1cff10"/>
<path d="M165.6 992.2L173.6 1006.2L157.6 1006.2Z" fill="#1cff10"/>
<path d="M194.1 978L202.1 992L186.1 992Z" fill="#1cff10"/>
<path d="M222.6 971L230.6 985L214.6 985Z" fill="#1cff10"/>
<path d="M251.1 965L259.1 979L243.1 979Z" fill="#1cff10"/>
<path d="M279.6 958.5L287.6 972.5L271.6 972.5Z" fill="#1cff10"/>
<path d="M308.1 951.7L316.1 965.7L300.1 965.7Z" fill="#1cff10"/>
<path d="M336.6 946.6L344.6 960.6L328.6 960.6Z" fill="#1cff10"/>
<path d="M365.1 941.4L373.1 955.4L357.1 955.4Z" fill="#1cff10"/>
<path d="M393.6 934.6L401.6 948.6L385.6 948.6Z" fill="#1cff10"/>
<path d="M422.1 929.5L430.1 943.5L414.1 943.5Z" fill="#1cff10"/>
<path d="M450.6 924.4L458.6 938.4L442.6 938.4Z" fill="#1cff10"/>
<path d="M479.1 891.7L487.1 905.7L471.1 905.7Z" fill="#1cff10"/>
<path d="M507.6 879.3L515.6 893.3L499.6 893.3Z" fill="#1cff10"/>
<path d="M536.1 876.2L544.1 890.2L528.1 890.2Z" fill="#1cff10"/>
<path d="M564.6 866.3L572.6 880.3L556.6 880.3Z" fill="#1cff10"/>
<polyline points="80.1,878.8 108.6,840.81 137.1,809.63 165.6,762.31 194.1,734.24 222.6,722.21 251.1,718.2 279.6,712.89 308.1,709.18 336.6,704.47 365.1,703.56 393.6,702.06 422.1,699.85 450.6,698.95 479.1,693.44 507.6,687.72 536.1,687.22 564.6,686.22" fill="none" stroke="#0000ff" stroke-width="1.6" stroke-linejoin="round"/>
<polyline points="80.1,923.21 108.6,839 137.1,791.88 165.6,749.88 194.1,711.78 222.6,692.03 251.1,688.02 279.6,680.31 308.1,677.2 336.6,675.59 365.1,673.39 393.6,673.69 422.1,667.17 450.6,668.48 479.1,659.35 507.6,655.14 536.1,659.96 564.6,658.55" fill="none" stroke="#0000ff" stroke-width="1.6" stroke-linejoin="round"/>
<path d="M80.1 877.9V880.4M72.6 877.9H87.6M72.6 880.4H87.6" stroke="#000000" stroke-width="1.5" fill="none"/>
<path d="M137.1 802.11V807.12M129.6 802.11H144.6M129.6 807.12H144.6" stroke="#000000" stroke-width="1.5" fill="none"/>
<path d="M165.6 759.1V765.62M158.1 759.1H173.1M158.1 765.62H173.1" stroke="#000000" stroke-width="1.5" fill="none"/>
<path d="M108.6 834.79V845.82M101.1 834.79H116.1M101.1 845.82H116.1" stroke="#000000" stroke-width="1.5" fill="none"/>
<path d="M194.1 731.53V736.55M186.6 731.53H201.6M186.6 736.55H201.6" stroke="#000000" stroke-width="1.5" fill="none"/>
<path d="M222.6 721.01V723.51M215.1 721.01H230.1M215.1 723.51H230.1" stroke="#000000" stroke-width="1.5" fill="none"/>
<path d="M251.1 717V719.5M243.6 717H258.6M243.6 719.5H258.6" stroke="#000000" stroke-width="1.5" fill="none"/>
<path d="M279.6 711.68V714.09M272.1 711.68H287.1M272.1 714.09H287.1" stroke="#000000" stroke-width="1.5" fill="none"/>
<path d="M308.1 707.97V710.48M300.6 707.97H315.6M300.6 710.48H315.6" stroke="#000000" stroke-width="1.5" fill="none"/>
<path d="M336.6 703.26V705.67M329.1 703.26H344.1M329.1 705.67H344.1" stroke="#000000" stroke-width="1.5" fill="none"/>
<path d="M365.1 702.46V704.87M357.6 702.46H372.6M357.6 704.87H372.6" stroke="#000000" stroke-width="1.5" fill="none"/>
<path d="M393.6 700.96V703.26M386.1 700.96H401.1M386.1 703.26H401.1" stroke="#000000" stroke-width="1.5" fill="none"/>
<path d="M422.1 698.75V701.06M414.6 698.75H429.6M414.6 701.06H429.6" stroke="#000000" stroke-width="1.5" fill="none"/>
<path d="M450.6 697.85V700.16M443.1 697.85H458.1M443.1 700.16H458.1" stroke="#000000" stroke-width="1.5" fill="none"/>
<path d="M479.1 692.44V694.74M471.6 692.44H486.6M471.6 694.74H486.6" stroke="#000000" stroke-width="1.5" fill="none"/>
<path d="M507.6 686.72V689.03M500.1 686.72H515.1M500.1 689.03H515.1" stroke="#000000" stroke-width="1.5" fill="none"/>
<path d="M536.1 686.22V688.43M528.6 686.22H543.6M528.6 688.43H543.6" stroke="#000000" stroke-width="1.5" fill="none"/>
<path d="M564.6 685.22V687.42M557.1 685.22H572.1M557.1 687.42H572.1" stroke="#000000" stroke-width="1.5" fill="none"/>
<path d="M80.1 915.79V932.53M72.6 915.79H87.6M72.6 932.53H87.6" stroke="#000000" stroke-width="1.5" fill="none"/>
<path d="M108.6 830.88V850.53M101.1 830.88H116.1M101.1 850.53H116.1" stroke="#000000" stroke-width="1.5" fill="none"/>
<path d="M137.1 784.67V802.11M129.6 784.67H144.6M129.6 802.11H144.6" stroke="#000000" stroke-width="1.5" fill="none"/>
<path d="M165.6 739.95V757.9M158.1 739.95H173.1M158.1 757.9H173.1" stroke="#000000" stroke-width="1.5" fill="none"/>
<path d="M194.1 704.37V722.51M186.6 704.37H201.6M186.6 722.51H201.6" stroke="#000000" stroke-width="1.5" fill="none"/>
<path d="M251.1 681.91V693.94M243.6 681.91H258.6M243.6 693.94H258.6" stroke="#000000" stroke-width="1.5" fill="none"/>
<path d="M308.1 671.68V682.71M300.6 671.68H315.6M300.6 682.71H315.6" stroke="#000000" stroke-width="1.5" fill="none"/>
<path d="M422.1 661.36V672.99M414.6 661.36H429.6M414.6 672.99H429.6" stroke="#000000" stroke-width="1.5" fill="none"/>
<path d="M450.6 662.66V674.29M443.1 662.66H458.1M443.1 674.29H458.1" stroke="#000000" stroke-width="1.5" fill="none"/>
<path d="M80.1 871.8L88.1 885.8L72.1 885.8Z" fill="#000000"/>
<path d="M108.6 833.81L116.6 847.81L100.6 847.81Z" fill="#000000"/>
<path d="M137.1 802.63L145.1 816.63L129.1 816.63Z" fill="#000000"/>
<path d="M165.6 755.31L173.6 769.31L157.6 769.31Z" fill="#000000"/>
<path d="M194.1 727.24L202.1 741.24L186.1 741.24Z" fill="#000000"/>
<path d="M222.6 715.21L230.6 729.21L214.6 729.21Z" fill="#000000"/>
<path d="M251.1 711.2L259.1 725.2L243.1 725.2Z" fill="#000000"/>
<path d="M279.6 705.89L287.6 719.89L271.6 719.89Z" fill="#000000"/>
<path d="M308.1 702.18L316.1 716.18L300.1 716.18Z" fill="#000000"/>
<path d="M336.6 697.47L344.6 711.47L328.6 711.47Z" fill="#000000"/>
<path d="M365.1 696.56L373.1 710.56L357.1 710.56Z" fill="#000000"/>
<path d="M393.6 695.06L401.6 709.06L385.6 709.06Z" fill="#000000"/>
<path d="M422.1 692.85L430.1 706.85L414.1 706.85Z" fill="#000000"/>
<path d="M450.6 691.95L458.6 705.95L442.6 705.95Z" fill="#000000"/>
<path d="M479.1 686.44L487.1 700.44L471.1 700.44Z" fill="#000000"/>
<path d="M507.6 680.72L515.6 694.72L499.6 694.72Z" fill="#000000"/>
<path d="M536.1 680.22L544.1 694.22L528.1 694.22Z" fill="#000000"/>
<path d="M564.6 679.22L572.6 693.22L556.6 693.22Z" fill="#000000"/>
<circle cx="80.1" cy="923.21" r="7.6" fill="#000000"/>
<circle cx="108.6" cy="839" r="7.6" fill="#000000"/>
<circle cx="137.1" cy="791.88" r="7.6" fill="#000000"/>
<circle cx="165.6" cy="749.88" r="7.6" fill="#000000"/>
<circle cx="194.1" cy="711.78" r="7.6" fill="#000000"/>
<circle cx="222.6" cy="692.03" r="7.6" fill="#000000"/>
<circle cx="251.1" cy="688.02" r="7.6" fill="#000000"/>
<circle cx="279.6" cy="680.31" r="7.6" fill="#000000"/>
<circle cx="308.1" cy="677.2" r="7.6" fill="#000000"/>
<circle cx="336.6" cy="675.59" r="7.6" fill="#000000"/>
<circle cx="365.1" cy="673.39" r="7.6" fill="#000000"/>
<circle cx="393.6" cy="673.69" r="7.6" fill="#000000"/>
<circle cx="422.1" cy="667.17" r="7.6" fill="#000000"/>
<circle cx="450.6" cy="668.48" r="7.6" fill="#000000"/>
<circle cx="479.1" cy="659.35" r="7.6" fill="#000000"/>
<circle cx="507.6" cy="655.14" r="7.6" fill="#000000"/>
<circle cx="536.1" cy="659.96" r="7.6" fill="#000000"/>
<circle cx="564.6" cy="658.55" r="7.6" fill="#000000"/>
<text x="108.6" y="988.6" font-size="21" text-anchor="middle" font-weight="normal" stroke="#000" stroke-width="0.1">*</text>
<text x="137.1" y="988.6" font-size="21" text-anchor="middle" font-weight="normal" stroke="#000" stroke-width="0.1">***</text>
<text x="165.6" y="988.6" font-size="21" text-anchor="middle" font-weight="normal" stroke="#000" stroke-width="0.1">**</text>
<path d="M62.3 1121.5V1528.6" stroke="#000" stroke-width="2.4"/>
<path d="M54 1528.6H591.3" stroke="#000" stroke-width="2.4"/>
<text x="52.5" y="1532.7" font-size="11.5" font-weight="bold" text-anchor="end" >0.01</text>
<path d="M54 1427.05H62.3" stroke="#000" stroke-width="2.4"/>
<text x="52.5" y="1431.15" font-size="11.5" font-weight="bold" text-anchor="end" >0.1</text>
<path d="M54 1325.5H62.3" stroke="#000" stroke-width="2.4"/>
<text x="52.5" y="1329.6" font-size="11.5" font-weight="bold" text-anchor="end" >1</text>
<path d="M54 1223.95H62.3" stroke="#000" stroke-width="2.4"/>
<text x="52.5" y="1228.05" font-size="11.5" font-weight="bold" text-anchor="end" >10</text>
<path d="M54 1122.4H62.3" stroke="#000" stroke-width="2.4"/>
<text x="52.5" y="1126.5" font-size="11.5" font-weight="bold" text-anchor="end" >100</text>
<path d="M57.3 1477.82H62.3" stroke="#000" stroke-width="2.4"/>
<path d="M57.3 1376.28H62.3" stroke="#000" stroke-width="2.4"/>
<path d="M57.3 1274.72H62.3" stroke="#000" stroke-width="2.4"/>
<path d="M57.3 1173.18H62.3" stroke="#000" stroke-width="2.4"/>
<path d="M81.8 1528.6V1536.1" stroke="#000" stroke-width="2.4"/>
<text x="81.8" y="1549.5" font-size="11.5" font-weight="bold" text-anchor="middle" >0</text>
<path d="M110.63 1528.6V1536.1" stroke="#000" stroke-width="2.4"/>
<text x="110.63" y="1549.5" font-size="11.5" font-weight="bold" text-anchor="middle" >6</text>
<path d="M139.46 1528.6V1536.1" stroke="#000" stroke-width="2.4"/>
<text x="139.46" y="1549.5" font-size="11.5" font-weight="bold" text-anchor="middle" >7.5</text>
<path d="M168.29 1528.6V1536.1" stroke="#000" stroke-width="2.4"/>
<text x="168.29" y="1549.5" font-size="11.5" font-weight="bold" text-anchor="middle" >9</text>
<path d="M197.12 1528.6V1536.1" stroke="#000" stroke-width="2.4"/>
<text x="197.12" y="1549.5" font-size="11.5" font-weight="bold" text-anchor="middle" >10.5</text>
<path d="M225.95 1528.6V1536.1" stroke="#000" stroke-width="2.4"/>
<text x="225.95" y="1549.5" font-size="11.5" font-weight="bold" text-anchor="middle" >12</text>
<path d="M254.78 1528.6V1536.1" stroke="#000" stroke-width="2.4"/>
<text x="254.78" y="1549.5" font-size="11.5" font-weight="bold" text-anchor="middle" >13.5</text>
<path d="M283.61 1528.6V1536.1" stroke="#000" stroke-width="2.4"/>
<text x="283.61" y="1549.5" font-size="11.5" font-weight="bold" text-anchor="middle" >15</text>
<path d="M312.44 1528.6V1536.1" stroke="#000" stroke-width="2.4"/>
<text x="312.44" y="1549.5" font-size="11.5" font-weight="bold" text-anchor="middle" >16.5</text>
<path d="M341.27 1528.6V1536.1" stroke="#000" stroke-width="2.4"/>
<text x="341.27" y="1549.5" font-size="11.5" font-weight="bold" text-anchor="middle" >18</text>
<path d="M370.1 1528.6V1536.1" stroke="#000" stroke-width="2.4"/>
<text x="370.1" y="1549.5" font-size="11.5" font-weight="bold" text-anchor="middle" >19.5</text>
<path d="M398.93 1528.6V1536.1" stroke="#000" stroke-width="2.4"/>
<text x="398.93" y="1549.5" font-size="11.5" font-weight="bold" text-anchor="middle" >21</text>
<path d="M427.76 1528.6V1536.1" stroke="#000" stroke-width="2.4"/>
<text x="427.76" y="1549.5" font-size="11.5" font-weight="bold" text-anchor="middle" >22.5</text>
<path d="M456.59 1528.6V1536.1" stroke="#000" stroke-width="2.4"/>
<text x="456.59" y="1549.5" font-size="11.5" font-weight="bold" text-anchor="middle" >24</text>
<path d="M485.42 1528.6V1536.1" stroke="#000" stroke-width="2.4"/>
<text x="485.42" y="1549.5" font-size="11.5" font-weight="bold" text-anchor="middle" >36</text>
<path d="M514.25 1528.6V1536.1" stroke="#000" stroke-width="2.4"/>
<text x="514.25" y="1549.5" font-size="11.5" font-weight="bold" text-anchor="middle" >48</text>
<path d="M543.08 1528.6V1536.1" stroke="#000" stroke-width="2.4"/>
<text x="543.08" y="1549.5" font-size="11.5" font-weight="bold" text-anchor="middle" >60</text>
<path d="M571.91 1528.6V1536.1" stroke="#000" stroke-width="2.4"/>
<text x="571.91" y="1549.5" font-size="11.5" font-weight="bold" text-anchor="middle" >72</text>
<text x="326.5" y="1570.6" font-size="14.4" font-weight="bold" text-anchor="middle" >Time (hours)</text>
<text transform="translate(15.6 1326.7) rotate(-90)" font-size="18.8" font-weight="bold" text-anchor="middle">Log<tspan font-size="14" dy="6.3">10</tspan><tspan dy="-6.3">(OD</tspan><tspan font-size="14" dy="6.3">600</tspan><tspan dy="-6.3">)</tspan></text>
<path d="M591.3 1121.5V1529.5" stroke="#000" stroke-width="2.4"/>
<path d="M591.3 1528.6H603.3" stroke="#000" stroke-width="2.4"/>
<text x="604.6" y="1532.7" font-size="11.5" font-weight="bold" text-anchor="start" >0</text>
<path d="M591.3 1487.98H597.8" stroke="#000" stroke-width="2.4"/>
<path d="M591.3 1447.36H603.3" stroke="#000" stroke-width="2.4"/>
<text x="604.6" y="1451.46" font-size="11.5" font-weight="bold" text-anchor="start" >10</text>
<path d="M591.3 1406.74H597.8" stroke="#000" stroke-width="2.4"/>
<path d="M591.3 1366.12H603.3" stroke="#000" stroke-width="2.4"/>
<text x="604.6" y="1370.22" font-size="11.5" font-weight="bold" text-anchor="start" >20</text>
<path d="M591.3 1325.5H597.8" stroke="#000" stroke-width="2.4"/>
<path d="M591.3 1284.88H603.3" stroke="#000" stroke-width="2.4"/>
<text x="604.6" y="1288.98" font-size="11.5" font-weight="bold" text-anchor="start" >30</text>
<path d="M591.3 1244.26H597.8" stroke="#000" stroke-width="2.4"/>
<path d="M591.3 1203.64H603.3" stroke="#000" stroke-width="2.4"/>
<text x="604.6" y="1207.74" font-size="11.5" font-weight="bold" text-anchor="start" >40</text>
<path d="M591.3 1163.02H597.8" stroke="#000" stroke-width="2.4"/>
<path d="M591.3 1122.4H603.3" stroke="#000" stroke-width="2.4"/>
<text x="604.6" y="1126.5" font-size="11.5" font-weight="bold" text-anchor="start" >50</text>
<text transform="translate(630.6 1326.2) rotate(90)" font-size="18.7" font-weight="bold" text-anchor="middle" xml:space="preserve">[Tryptophol]  (ng/μL)</text>
<text x="327.4" y="1094.4" font-size="21" font-weight="bold" text-anchor="middle" >Tryptophol</text>
<text x="31" y="1104" font-size="46" font-weight="bold" text-anchor="start" >C</text>
<polyline points="110.63,1524.3 139.46,1525.5 168.29,1524 197.12,1516.9 225.95,1519 254.78,1513.4 283.61,1491 312.44,1485 341.27,1461.5 370.1,1434.3 398.93,1417.8 427.76,1411.3 456.59,1407 485.42,1339 514.25,1339 543.08,1312.3 571.91,1324.3" fill="none" stroke="#ff0000" stroke-width="1.6" stroke-linejoin="round"/>
<path d="M283.61 1481.7V1500M276.11 1481.7H291.11M276.11 1500H291.11" stroke="#ff0000" stroke-width="1.5" fill="none"/>
<path d="M312.44 1473V1498M304.94 1473H319.94M304.94 1498H319.94" stroke="#ff0000" stroke-width="1.5" fill="none"/>
<path d="M341.27 1454.4V1470M333.77 1454.4H348.77M333.77 1470H348.77" stroke="#ff0000" stroke-width="1.5" fill="none"/>
<path d="M370.1 1429V1440M362.6 1429H377.6M362.6 1440H377.6" stroke="#ff0000" stroke-width="1.5" fill="none"/>
<path d="M398.93 1413V1423M391.43 1413H406.43M391.43 1423H406.43" stroke="#ff0000" stroke-width="1.5" fill="none"/>
<path d="M427.76 1406V1417M420.26 1406H435.26M420.26 1417H435.26" stroke="#ff0000" stroke-width="1.5" fill="none"/>
<path d="M456.59 1399.8V1415.3M449.09 1399.8H464.09M449.09 1415.3H464.09" stroke="#ff0000" stroke-width="1.5" fill="none"/>
<path d="M485.42 1326.9V1351M477.92 1326.9H492.92M477.92 1351H492.92" stroke="#ff0000" stroke-width="1.5" fill="none"/>
<path d="M514.25 1321.7V1356.4M506.75 1321.7H521.75M506.75 1356.4H521.75" stroke="#ff0000" stroke-width="1.5" fill="none"/>
<path d="M543.08 1303V1321.7M535.58 1303H550.58M535.58 1321.7H550.58" stroke="#ff0000" stroke-width="1.5" fill="none"/>
<path d="M571.91 1313V1336.6M564.41 1313H579.41M564.41 1336.6H579.41" stroke="#ff0000" stroke-width="1.5" fill="none"/>
<circle cx="110.63" cy="1524.3" r="7.6" fill="#ff0000"/>
<circle cx="139.46" cy="1525.5" r="7.6" fill="#ff0000"/>
<circle cx="168.29" cy="1524" r="7.6" fill="#ff0000"/>
<circle cx="197.12" cy="1516.9" r="7.6" fill="#ff0000"/>
<circle cx="225.95" cy="1519" r="7.6" fill="#ff0000"/>
<circle cx="254.78" cy="1513.4" r="7.6" fill="#ff0000"/>
<circle cx="283.61" cy="1491" r="7.6" fill="#ff0000"/>
<circle cx="312.44" cy="1485" r="7.6" fill="#ff0000"/>
<circle cx="341.27" cy="1461.5" r="7.6" fill="#ff0000"/>
<circle cx="370.1" cy="1434.3" r="7.6" fill="#ff0000"/>
<circle cx="398.93" cy="1417.8" r="7.6" fill="#ff0000"/>
<circle cx="427.76" cy="1411.3" r="7.6" fill="#ff0000"/>
<circle cx="456.59" cy="1407" r="7.6" fill="#ff0000"/>
<circle cx="485.42" cy="1339" r="7.6" fill="#ff0000"/>
<circle cx="514.25" cy="1339" r="7.6" fill="#ff0000"/>
<circle cx="543.08" cy="1312.3" r="7.6" fill="#ff0000"/>
<circle cx="571.91" cy="1324.3" r="7.6" fill="#ff0000"/>
<polyline points="110.63,1528.5 139.46,1528.5 168.29,1528.5 197.12,1524 225.95,1522 254.78,1518 283.61,1517.5 312.44,1514.4 341.27,1512.9 370.1,1512 398.93,1511.5 427.76,1510.8 456.59,1509.5 485.42,1503 514.25,1501 543.08,1500.5 571.91,1499.5" fill="none" stroke="#ff0000" stroke-width="1.6" stroke-linejoin="round"/>
<path d="M110.63 1521.5L118.63 1535.5L102.63 1535.5Z" fill="#ff0000"/>
<path d="M139.46 1521.5L147.46 1535.5L131.46 1535.5Z" fill="#ff0000"/>
<path d="M168.29 1521.5L176.29 1535.5L160.29 1535.5Z" fill="#ff0000"/>
<path d="M197.12 1517L205.12 1531L189.12 1531Z" fill="#ff0000"/>
<path d="M225.95 1515L233.95 1529L217.95 1529Z" fill="#ff0000"/>
<path d="M254.78 1511L262.78 1525L246.78 1525Z" fill="#ff0000"/>
<path d="M283.61 1510.5L291.61 1524.5L275.61 1524.5Z" fill="#ff0000"/>
<path d="M312.44 1507.4L320.44 1521.4L304.44 1521.4Z" fill="#ff0000"/>
<path d="M341.27 1505.9L349.27 1519.9L333.27 1519.9Z" fill="#ff0000"/>
<path d="M370.1 1505L378.1 1519L362.1 1519Z" fill="#ff0000"/>
<path d="M398.93 1504.5L406.93 1518.5L390.93 1518.5Z" fill="#ff0000"/>
<path d="M427.76 1503.8L435.76 1517.8L419.76 1517.8Z" fill="#ff0000"/>
<path d="M456.59 1502.5L464.59 1516.5L448.59 1516.5Z" fill="#ff0000"/>
<path d="M485.42 1496L493.42 1510L477.42 1510Z" fill="#ff0000"/>
<path d="M514.25 1494L522.25 1508L506.25 1508Z" fill="#ff0000"/>
<path d="M543.08 1493.5L551.08 1507.5L535.08 1507.5Z" fill="#ff0000"/>
<path d="M571.91 1492.5L579.91 1506.5L563.91 1506.5Z" fill="#ff0000"/>
<polyline points="110.63,1529.5 139.46,1529.5 168.29,1529 197.12,1528 225.95,1527 254.78,1524 283.61,1521 312.44,1519.5 341.27,1517 370.1,1513.3 398.93,1513 427.76,1512 456.59,1509.7 485.42,1502.3 514.25,1504.7 543.08,1501 571.91,1497.3" fill="none" stroke="#0000ff" stroke-width="1.6" stroke-linejoin="round"/>
<circle cx="110.63" cy="1529.5" r="7.6" fill="#0000ff"/>
<circle cx="139.46" cy="1529.5" r="7.6" fill="#0000ff"/>
<circle cx="168.29" cy="1529" r="7.6" fill="#0000ff"/>
<circle cx="197.12" cy="1528" r="7.6" fill="#0000ff"/>
<circle cx="225.95" cy="1527" r="7.6" fill="#0000ff"/>
<circle cx="254.78" cy="1524" r="7.6" fill="#0000ff"/>
<circle cx="283.61" cy="1521" r="7.6" fill="#0000ff"/>
<circle cx="312.44" cy="1519.5" r="7.6" fill="#0000ff"/>
<circle cx="341.27" cy="1517" r="7.6" fill="#0000ff"/>
<circle cx="370.1" cy="1513.3" r="7.6" fill="#0000ff"/>
<circle cx="398.93" cy="1513" r="7.6" fill="#0000ff"/>
<circle cx="427.76" cy="1512" r="7.6" fill="#0000ff"/>
<circle cx="456.59" cy="1509.7" r="7.6" fill="#0000ff"/>
<circle cx="485.42" cy="1502.3" r="7.6" fill="#0000ff"/>
<circle cx="514.25" cy="1504.7" r="7.6" fill="#0000ff"/>
<circle cx="543.08" cy="1501" r="7.6" fill="#0000ff"/>
<circle cx="571.91" cy="1497.3" r="7.6" fill="#0000ff"/>
<polyline points="110.63,1528.8 139.46,1528.8 168.29,1528.8 197.12,1528.8 225.95,1528.8 254.78,1528.8 283.61,1528.8 312.44,1528.8 341.27,1528.8 370.1,1528.8 398.93,1528.8 427.76,1528.8 456.59,1528.8 485.42,1528.8 514.25,1528.8 543.08,1528.8 571.91,1528.8" fill="none" stroke="#0000ff" stroke-width="1.6" stroke-linejoin="round"/>
<path d="M110.63 1521.8L118.63 1535.8L102.63 1535.8Z" fill="#0000ff"/>
<path d="M139.46 1521.8L147.46 1535.8L131.46 1535.8Z" fill="#0000ff"/>
<path d="M168.29 1521.8L176.29 1535.8L160.29 1535.8Z" fill="#0000ff"/>
<path d="M197.12 1521.8L205.12 1535.8L189.12 1535.8Z" fill="#0000ff"/>
<path d="M225.95 1521.8L233.95 1535.8L217.95 1535.8Z" fill="#0000ff"/>
<path d="M254.78 1521.8L262.78 1535.8L246.78 1535.8Z" fill="#0000ff"/>
<path d="M283.61 1521.8L291.61 1535.8L275.61 1535.8Z" fill="#0000ff"/>
<path d="M312.44 1521.8L320.44 1535.8L304.44 1535.8Z" fill="#0000ff"/>
<path d="M341.27 1521.8L349.27 1535.8L333.27 1535.8Z" fill="#0000ff"/>
<path d="M370.1 1521.8L378.1 1535.8L362.1 1535.8Z" fill="#0000ff"/>
<path d="M398.93 1521.8L406.93 1535.8L390.93 1535.8Z" fill="#0000ff"/>
<path d="M427.76 1521.8L435.76 1535.8L419.76 1535.8Z" fill="#0000ff"/>
<path d="M456.59 1521.8L464.59 1535.8L448.59 1535.8Z" fill="#0000ff"/>
<path d="M485.42 1521.8L493.42 1535.8L477.42 1535.8Z" fill="#0000ff"/>
<path d="M514.25 1521.8L522.25 1535.8L506.25 1535.8Z" fill="#0000ff"/>
<path d="M543.08 1521.8L551.08 1535.8L535.08 1535.8Z" fill="#0000ff"/>
<path d="M571.91 1521.8L579.91 1535.8L563.91 1535.8Z" fill="#0000ff"/>
<polyline points="110.63,1526.8 139.46,1525.9 168.29,1524.3 197.12,1523.1 225.95,1521.2 254.78,1518.3 283.61,1504.7 312.44,1487 341.27,1463.1 370.1,1440.5 398.93,1427.1 427.76,1415 456.59,1407.6 485.42,1355.3 514.25,1350.7 543.08,1337.9 571.91,1342.3" fill="none" stroke="#1cff10" stroke-width="1.6" stroke-linejoin="round"/>
<path d="M283.61 1498V1511M276.11 1498H291.11M276.11 1511H291.11" stroke="#1cff10" stroke-width="1.5" fill="none"/>
<path d="M312.44 1475V1496.3M304.94 1475H319.94M304.94 1496.3H319.94" stroke="#1cff10" stroke-width="1.5" fill="none"/>
<path d="M341.27 1455V1471M333.77 1455H348.77M333.77 1471H348.77" stroke="#1cff10" stroke-width="1.5" fill="none"/>
<path d="M456.59 1401V1415.3M449.09 1401H464.09M449.09 1415.3H464.09" stroke="#1cff10" stroke-width="1.5" fill="none"/>
<path d="M485.42 1339.4V1372M477.92 1339.4H492.92M477.92 1372H492.92" stroke="#1cff10" stroke-width="1.5" fill="none"/>
<path d="M514.25 1334V1367.2M506.75 1334H521.75M506.75 1367.2H521.75" stroke="#1cff10" stroke-width="1.5" fill="none"/>
<path d="M543.08 1331.4V1344.2M535.58 1331.4H550.58M535.58 1344.2H550.58" stroke="#1cff10" stroke-width="1.5" fill="none"/>
<path d="M571.91 1329.3V1355.7M564.41 1329.3H579.41M564.41 1355.7H579.41" stroke="#1cff10" stroke-width="1.5" fill="none"/>
<circle cx="110.63" cy="1526.8" r="7.6" fill="#1cff10"/>
<circle cx="139.46" cy="1525.9" r="7.6" fill="#1cff10"/>
<circle cx="168.29" cy="1524.3" r="7.6" fill="#1cff10"/>
<circle cx="197.12" cy="1523.1" r="7.6" fill="#1cff10"/>
<circle cx="225.95" cy="1521.2" r="7.6" fill="#1cff10"/>
<circle cx="254.78" cy="1518.3" r="7.6" fill="#1cff10"/>
<circle cx="283.61" cy="1504.7" r="7.6" fill="#1cff10"/>
<circle cx="312.44" cy="1487" r="7.6" fill="#1cff10"/>
<circle cx="341.27" cy="1463.1" r="7.6" fill="#1cff10"/>
<circle cx="370.1" cy="1440.5" r="7.6" fill="#1cff10"/>
<circle cx="398.93" cy="1427.1" r="7.6" fill="#1cff10"/>
<circle cx="427.76" cy="1415" r="7.6" fill="#1cff10"/>
<circle cx="456.59" cy="1407.6" r="7.6" fill="#1cff10"/>
<circle cx="485.42" cy="1355.3" r="7.6" fill="#1cff10"/>
<circle cx="514.25" cy="1350.7" r="7.6" fill="#1cff10"/>
<circle cx="543.08" cy="1337.9" r="7.6" fill="#1cff10"/>
<circle cx="571.91" cy="1342.3" r="7.6" fill="#1cff10"/>
<polyline points="110.63,1529.5 139.46,1529.5 168.29,1529.5 197.12,1525 225.95,1523 254.78,1519.5 283.61,1519.5 312.44,1516.4 341.27,1514.9 370.1,1514 398.93,1513.5 427.76,1512.8 456.59,1511 485.42,1504.5 514.25,1502.5 543.08,1502 571.91,1502" fill="none" stroke="#1cff10" stroke-width="1.6" stroke-linejoin="round"/>
<path d="M110.63 1522.5L118.63 1536.5L102.63 1536.5Z" fill="#1cff10"/>
<path d="M139.46 1522.5L147.46 1536.5L131.46 1536.5Z" fill="#1cff10"/>
<path d="M168.29 1522.5L176.29 1536.5L160.29 1536.5Z" fill="#1cff10"/>
<path d="M197.12 1518L205.12 1532L189.12 1532Z" fill="#1cff10"/>
<path d="M225.95 1516L233.95 1530L217.95 1530Z" fill="#1cff10"/>
<path d="M254.78 1512.5L262.78 1526.5L246.78 1526.5Z" fill="#1cff10"/>
<path d="M283.61 1512.5L291.61 1526.5L275.61 1526.5Z" fill="#1cff10"/>
<path d="M312.44 1509.4L320.44 1523.4L304.44 1523.4Z" fill="#1cff10"/>
<path d="M341.27 1507.9L349.27 1521.9L333.27 1521.9Z" fill="#1cff10"/>
<path d="M370.1 1507L378.1 1521L362.1 1521Z" fill="#1cff10"/>
<path d="M398.93 1506.5L406.93 1520.5L390.93 1520.5Z" fill="#1cff10"/>
<path d="M427.76 1505.8L435.76 1519.8L419.76 1519.8Z" fill="#1cff10"/>
<path d="M456.59 1504L464.59 1518L448.59 1518Z" fill="#1cff10"/>
<path d="M485.42 1497.5L493.42 1511.5L477.42 1511.5Z" fill="#1cff10"/>
<path d="M514.25 1495.5L522.25 1509.5L506.25 1509.5Z" fill="#1cff10"/>
<path d="M543.08 1495L551.08 1509L535.08 1509Z" fill="#1cff10"/>
<path d="M571.91 1495L579.91 1509L563.91 1509Z" fill="#1cff10"/>
<polyline points="81.8,1406.79 110.63,1368.35 139.46,1336.81 168.29,1288.94 197.12,1260.54 225.95,1248.37 254.78,1244.31 283.61,1238.94 312.44,1235.18 341.27,1230.42 370.1,1229.5 398.93,1227.98 427.76,1225.75 456.59,1224.84 485.42,1219.26 514.25,1213.48 543.08,1212.97 571.91,1211.96" fill="none" stroke="#0000ff" stroke-width="1.6" stroke-linejoin="round"/>
<polyline points="81.8,1451.72 110.63,1366.53 139.46,1318.86 168.29,1276.36 197.12,1237.82 225.95,1217.84 254.78,1213.78 283.61,1205.97 312.44,1202.83 341.27,1201.21 370.1,1198.97 398.93,1199.28 427.76,1192.69 456.59,1194 485.42,1184.78 514.25,1180.52 543.08,1185.38 571.91,1183.96" fill="none" stroke="#0000ff" stroke-width="1.6" stroke-linejoin="round"/>
<path d="M81.8 1405.88V1408.41M74.3 1405.88H89.3M74.3 1408.41H89.3" stroke="#000000" stroke-width="1.5" fill="none"/>
<path d="M139.46 1329.2V1334.27M131.96 1329.2H146.96M131.96 1334.27H146.96" stroke="#000000" stroke-width="1.5" fill="none"/>
<path d="M168.29 1285.69V1292.28M160.79 1285.69H175.79M160.79 1292.28H175.79" stroke="#000000" stroke-width="1.5" fill="none"/>
<path d="M110.63 1362.27V1373.42M103.13 1362.27H118.13M103.13 1373.42H118.13" stroke="#000000" stroke-width="1.5" fill="none"/>
<path d="M197.12 1257.8V1262.87M189.62 1257.8H204.62M189.62 1262.87H204.62" stroke="#000000" stroke-width="1.5" fill="none"/>
<path d="M225.95 1247.15V1249.69M218.45 1247.15H233.45M218.45 1249.69H233.45" stroke="#000000" stroke-width="1.5" fill="none"/>
<path d="M254.78 1243.09V1245.63M247.28 1243.09H262.28M247.28 1245.63H262.28" stroke="#000000" stroke-width="1.5" fill="none"/>
<path d="M283.61 1237.72V1240.15M276.11 1237.72H291.11M276.11 1240.15H291.11" stroke="#000000" stroke-width="1.5" fill="none"/>
<path d="M312.44 1233.97V1236.5M304.94 1233.97H319.94M304.94 1236.5H319.94" stroke="#000000" stroke-width="1.5" fill="none"/>
<path d="M341.27 1229.2V1231.63M333.77 1229.2H348.77M333.77 1231.63H348.77" stroke="#000000" stroke-width="1.5" fill="none"/>
<path d="M370.1 1228.39V1230.82M362.6 1228.39H377.6M362.6 1230.82H377.6" stroke="#000000" stroke-width="1.5" fill="none"/>
<path d="M398.93 1226.87V1229.2M391.43 1226.87H406.43M391.43 1229.2H406.43" stroke="#000000" stroke-width="1.5" fill="none"/>
<path d="M427.76 1224.63V1226.97M420.26 1224.63H435.26M420.26 1226.97H435.26" stroke="#000000" stroke-width="1.5" fill="none"/>
<path d="M456.59 1223.72V1226.05M449.09 1223.72H464.09M449.09 1226.05H464.09" stroke="#000000" stroke-width="1.5" fill="none"/>
<path d="M485.42 1218.24V1220.58M477.92 1218.24H492.92M477.92 1220.58H492.92" stroke="#000000" stroke-width="1.5" fill="none"/>
<path d="M514.25 1212.46V1214.8M506.75 1212.46H521.75M506.75 1214.8H521.75" stroke="#000000" stroke-width="1.5" fill="none"/>
<path d="M543.08 1211.96V1214.19M535.58 1211.96H550.58M535.58 1214.19H550.58" stroke="#000000" stroke-width="1.5" fill="none"/>
<path d="M571.91 1210.94V1213.17M564.41 1210.94H579.41M564.41 1213.17H579.41" stroke="#000000" stroke-width="1.5" fill="none"/>
<path d="M81.8 1444.22V1461.15M74.3 1444.22H89.3M74.3 1461.15H89.3" stroke="#000000" stroke-width="1.5" fill="none"/>
<path d="M110.63 1358.31V1378.19M103.13 1358.31H118.13M103.13 1378.19H118.13" stroke="#000000" stroke-width="1.5" fill="none"/>
<path d="M139.46 1311.55V1329.2M131.96 1311.55H146.96M131.96 1329.2H146.96" stroke="#000000" stroke-width="1.5" fill="none"/>
<path d="M168.29 1266.32V1284.47M160.79 1266.32H175.79M160.79 1284.47H175.79" stroke="#000000" stroke-width="1.5" fill="none"/>
<path d="M197.12 1230.31V1248.67M189.62 1230.31H204.62M189.62 1248.67H204.62" stroke="#000000" stroke-width="1.5" fill="none"/>
<path d="M254.78 1207.6V1219.77M247.28 1207.6H262.28M247.28 1219.77H262.28" stroke="#000000" stroke-width="1.5" fill="none"/>
<path d="M312.44 1197.25V1208.41M304.94 1197.25H319.94M304.94 1208.41H319.94" stroke="#000000" stroke-width="1.5" fill="none"/>
<path d="M427.76 1186.8V1198.57M420.26 1186.8H435.26M420.26 1198.57H435.26" stroke="#000000" stroke-width="1.5" fill="none"/>
<path d="M456.59 1188.12V1199.89M449.09 1188.12H464.09M449.09 1199.89H464.09" stroke="#000000" stroke-width="1.5" fill="none"/>
<path d="M81.8 1399.79L89.8 1413.79L73.8 1413.79Z" fill="#000000"/>
<path d="M110.63 1361.35L118.63 1375.35L102.63 1375.35Z" fill="#000000"/>
<path d="M139.46 1329.81L147.46 1343.81L131.46 1343.81Z" fill="#000000"/>
<path d="M168.29 1281.94L176.29 1295.94L160.29 1295.94Z" fill="#000000"/>
<path d="M197.12 1253.54L205.12 1267.54L189.12 1267.54Z" fill="#000000"/>
<path d="M225.95 1241.37L233.95 1255.37L217.95 1255.37Z" fill="#000000"/>
<path d="M254.78 1237.31L262.78 1251.31L246.78 1251.31Z" fill="#000000"/>
<path d="M283.61 1231.94L291.61 1245.94L275.61 1245.94Z" fill="#000000"/>
<path d="M312.44 1228.18L320.44 1242.18L304.44 1242.18Z" fill="#000000"/>
<path d="M341.27 1223.42L349.27 1237.42L333.27 1237.42Z" fill="#000000"/>
<path d="M370.1 1222.5L378.1 1236.5L362.1 1236.5Z" fill="#000000"/>
<path d="M398.93 1220.98L406.93 1234.98L390.93 1234.98Z" fill="#000000"/>
<path d="M427.76 1218.75L435.76 1232.75L419.76 1232.75Z" fill="#000000"/>
<path d="M456.59 1217.84L464.59 1231.84L448.59 1231.84Z" fill="#000000"/>
<path d="M485.42 1212.26L493.42 1226.26L477.42 1226.26Z" fill="#000000"/>
<path d="M514.25 1206.48L522.25 1220.48L506.25 1220.48Z" fill="#000000"/>
<path d="M543.08 1205.97L551.08 1219.97L535.08 1219.97Z" fill="#000000"/>
<path d="M571.91 1204.96L579.91 1218.96L563.91 1218.96Z" fill="#000000"/>
<circle cx="81.8" cy="1451.72" r="7.6" fill="#000000"/>
<circle cx="110.63" cy="1366.53" r="7.6" fill="#000000"/>
<circle cx="139.46" cy="1318.86" r="7.6" fill="#000000"/>
<circle cx="168.29" cy="1276.36" r="7.6" fill="#000000"/>
<circle cx="197.12" cy="1237.82" r="7.6" fill="#000000"/>
<circle cx="225.95" cy="1217.84" r="7.6" fill="#000000"/>
<circle cx="254.78" cy="1213.78" r="7.6" fill="#000000"/>
<circle cx="283.61" cy="1205.97" r="7.6" fill="#000000"/>
<circle cx="312.44" cy="1202.83" r="7.6" fill="#000000"/>
<circle cx="341.27" cy="1201.21" r="7.6" fill="#000000"/>
<circle cx="370.1" cy="1198.97" r="7.6" fill="#000000"/>
<circle cx="398.93" cy="1199.28" r="7.6" fill="#000000"/>
<circle cx="427.76" cy="1192.69" r="7.6" fill="#000000"/>
<circle cx="456.59" cy="1194" r="7.6" fill="#000000"/>
<circle cx="485.42" cy="1184.78" r="7.6" fill="#000000"/>
<circle cx="514.25" cy="1180.52" r="7.6" fill="#000000"/>
<circle cx="543.08" cy="1185.38" r="7.6" fill="#000000"/>
<circle cx="571.91" cy="1183.96" r="7.6" fill="#000000"/>
<text x="139.46" y="1521" font-size="21" text-anchor="middle" font-weight="normal" stroke="#000" stroke-width="0.1">***</text>
<text x="168.29" y="1522.5" font-size="21" text-anchor="middle" font-weight="normal" stroke="#000" stroke-width="0.1">**</text>
<text x="312.44" y="1474" font-size="21" text-anchor="middle" font-weight="normal" stroke="#000" stroke-width="0.1">*</text>
<text x="341.27" y="1457.9" font-size="21" text-anchor="middle" font-weight="normal" stroke="#000" stroke-width="0.1">**</text>
<text x="370.1" y="1432.8" font-size="21" text-anchor="middle" font-weight="normal" stroke="#000" stroke-width="0.1">***</text>
<text x="398.93" y="1412.9" font-size="21" text-anchor="middle" font-weight="normal" stroke="#000" stroke-width="0.1">***</text>
<text x="427.76" y="1408" font-size="21" text-anchor="middle" font-weight="normal" stroke="#000" stroke-width="0.1">***</text>
<text x="456.59" y="1402.4" font-size="21" text-anchor="middle" font-weight="normal" stroke="#000" stroke-width="0.1">***</text>
<text x="485.42" y="1330.7" font-size="21" text-anchor="middle" font-weight="normal" stroke="#000" stroke-width="0.1">***</text>
<text x="514.25" y="1317.9" font-size="21" text-anchor="middle" font-weight="normal" stroke="#000" stroke-width="0.1">***</text>
<text x="543.08" y="1303.7" font-size="21" text-anchor="middle" font-weight="normal" stroke="#000" stroke-width="0.1">***</text>
<text x="571.91" y="1317.9" font-size="21" text-anchor="middle" font-weight="normal" stroke="#000" stroke-width="0.1">***</text>
<path d="M203.7 52.7H221.7" stroke="#0000ff" stroke-width="1.5"/>
<circle cx="212.7" cy="52.7" r="7.6" fill="#000000"/>
<path d="M275.6 51.1H294.6" stroke="#0000ff" stroke-width="1.5"/>
<path d="M285.1 43.6L292.8 57.6L277.4 57.6Z" fill="#000000"/>
<path d="M203.7 76.1H221.7" stroke="#ff0000" stroke-width="1.5"/>
<circle cx="212.7" cy="76.1" r="7.6" fill="#ff0000"/>
<path d="M276.8 76.6H295.8" stroke="#ff0000" stroke-width="1.5"/>
<path d="M286.3 69.1L294 83.1L278.6 83.1Z" fill="#ff0000"/>
<path d="M203.7 97.9H221.7" stroke="#0000ff" stroke-width="1.5"/>
<circle cx="212.7" cy="97.9" r="7.6" fill="#0000ff"/>
<path d="M277.9 99.8H296.9" stroke="#0000ff" stroke-width="1.5"/>
<path d="M287.4 92.3L295.1 106.3L279.7 106.3Z" fill="#0000ff"/>
<path d="M204 118.7H222" stroke="#1cff10" stroke-width="1.5"/>
<circle cx="213" cy="118.7" r="7.6" fill="#1cff10"/>
<path d="M277.9 119H296.9" stroke="#1cff10" stroke-width="1.5"/>
<path d="M287.4 111.5L295.1 125.5L279.7 125.5Z" fill="#1cff10"/>
<text x="230.6" y="57.9" font-size="14.5" font-weight="normal" text-anchor="start" >(YPD)</text>
<text x="303.3" y="57.3" font-size="14.5" font-weight="normal" text-anchor="start" >(mRPMI 1640)</text>
<text x="230.6" y="80.5" font-size="14.5" font-weight="normal" text-anchor="start" >(YPD)</text>
<text x="304.4" y="80.9" font-size="14.5" font-weight="normal" text-anchor="start" >(mRPMI 1640)</text>
<text x="230.6" y="101.8" font-size="14.5" font-weight="normal" text-anchor="start" >(YPD)</text>
<text x="305.6" y="103.3" font-size="14.5" font-weight="normal" text-anchor="start" >(mRPMI 1640)</text>
<text x="230.6" y="122.6" font-size="14.5" font-weight="normal" text-anchor="start" >(YPD)</text>
<text x="305.6" y="123.4" font-size="14.5" font-weight="normal" text-anchor="start" >(mRPMI 1640)</text>
<text x="73" y="54.8" font-size="15.2" font-weight="normal" text-anchor="start" >OD<tspan font-size="12.5" dy="4.7">600</tspan></text>
<text x="67.8" y="80.2" font-size="14.5" font-weight="normal" text-anchor="start" >Whole culture</text>
<text x="68.6" y="101.6" font-size="14.5" font-weight="normal" text-anchor="start" >Pellet fraction</text>
<text x="67.8" y="122.1" font-size="14.5" font-weight="normal" text-anchor="start" >Supernatant fraction</text>
</svg>
</body></html>
